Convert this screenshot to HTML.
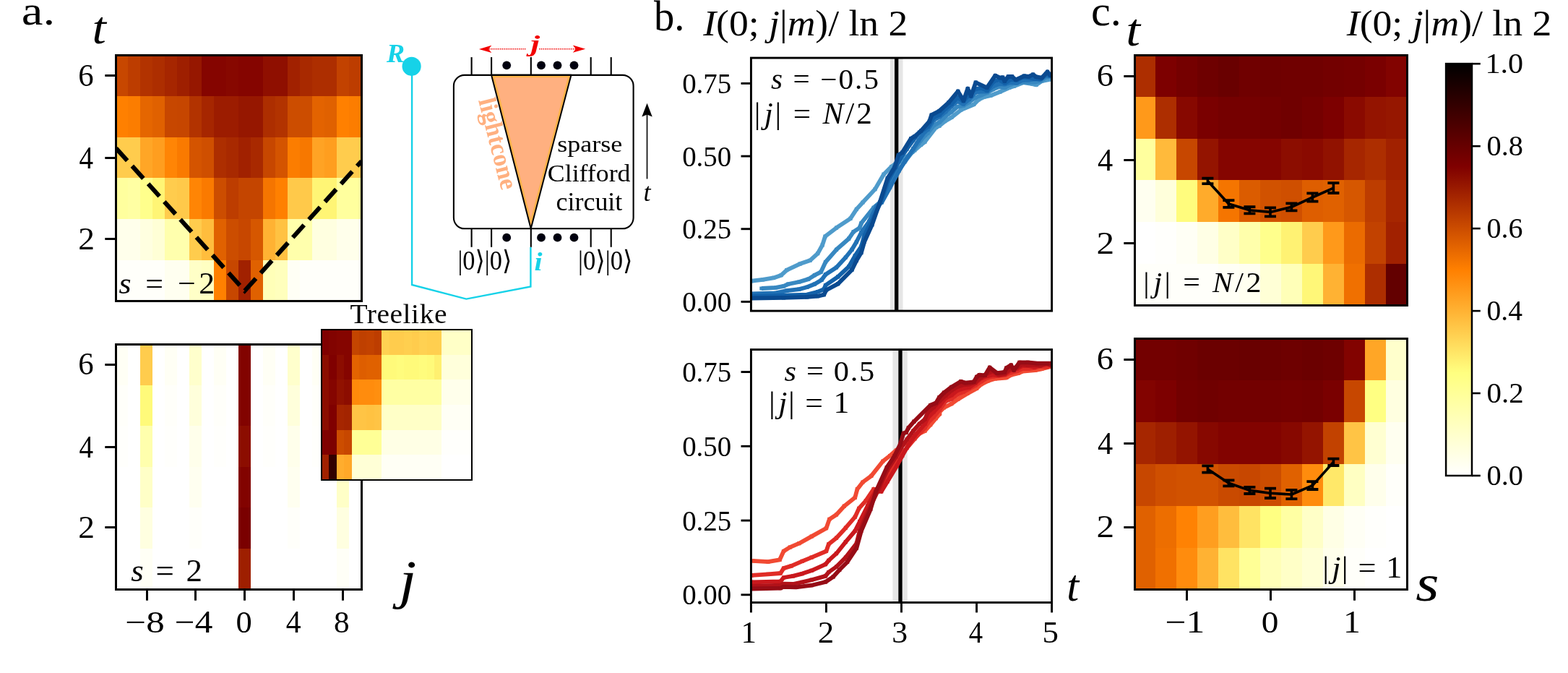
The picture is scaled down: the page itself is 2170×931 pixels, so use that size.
<!DOCTYPE html>
<html lang="en"><head><meta charset="utf-8"><title>Figure</title>
<style>html,body{margin:0;padding:0;background:#fff;overflow:hidden}svg{display:block}</style></head>
<body>
<svg width="2170" height="931" viewBox="0 0 2170 931" font-family="'Liberation Serif','DejaVu Serif',serif">
<rect width="2170" height="931" fill="#fff"/>
<g shape-rendering="crispEdges">
<rect x="160" y="76" width="17" height="57" fill="#c74700"/>
<rect x="177" y="76" width="17" height="57" fill="#bd3d00"/>
<rect x="194" y="76" width="17" height="57" fill="#b23300"/>
<rect x="211" y="76" width="17" height="57" fill="#ad2e00"/>
<rect x="228" y="76" width="17" height="57" fill="#a62600"/>
<rect x="245" y="76" width="17" height="57" fill="#9e1f00"/>
<rect x="262" y="76" width="17" height="57" fill="#961700"/>
<rect x="279" y="76" width="17" height="57" fill="#850500"/>
<rect x="296" y="76" width="17" height="57" fill="#850500"/>
<rect x="313" y="76" width="17" height="57" fill="#870800"/>
<rect x="330" y="76" width="17" height="57" fill="#850500"/>
<rect x="347" y="76" width="17" height="57" fill="#850500"/>
<rect x="364" y="76" width="17" height="57" fill="#8f0f00"/>
<rect x="381" y="76" width="17" height="57" fill="#8f0f00"/>
<rect x="398" y="76" width="17" height="57" fill="#a12100"/>
<rect x="415" y="76" width="17" height="57" fill="#a82900"/>
<rect x="432" y="76" width="17" height="57" fill="#ad2e00"/>
<rect x="449" y="76" width="17" height="57" fill="#ad2e00"/>
<rect x="466" y="76" width="17" height="57" fill="#c24200"/>
<rect x="483" y="76" width="17" height="57" fill="#bd3d00"/>
<rect x="160" y="133" width="17" height="57" fill="#ff8000"/>
<rect x="177" y="133" width="17" height="57" fill="#fc7d00"/>
<rect x="194" y="133" width="17" height="57" fill="#e56600"/>
<rect x="211" y="133" width="17" height="57" fill="#e06100"/>
<rect x="228" y="133" width="17" height="57" fill="#c74700"/>
<rect x="245" y="133" width="17" height="57" fill="#c64600"/>
<rect x="262" y="133" width="17" height="57" fill="#b23300"/>
<rect x="279" y="133" width="17" height="57" fill="#a62600"/>
<rect x="296" y="133" width="17" height="57" fill="#9c1c00"/>
<rect x="313" y="133" width="17" height="57" fill="#9c1c00"/>
<rect x="330" y="133" width="17" height="57" fill="#961700"/>
<rect x="347" y="133" width="17" height="57" fill="#961700"/>
<rect x="364" y="133" width="17" height="57" fill="#ad2e00"/>
<rect x="381" y="133" width="17" height="57" fill="#b23300"/>
<rect x="398" y="133" width="17" height="57" fill="#cc4d00"/>
<rect x="415" y="133" width="17" height="57" fill="#cc4d00"/>
<rect x="432" y="133" width="17" height="57" fill="#e36300"/>
<rect x="449" y="133" width="17" height="57" fill="#e06100"/>
<rect x="466" y="133" width="17" height="57" fill="#ff8000"/>
<rect x="483" y="133" width="17" height="57" fill="#fc7d00"/>
<rect x="160" y="190" width="17" height="56" fill="#ffcc4d"/>
<rect x="177" y="190" width="17" height="56" fill="#ffcc4d"/>
<rect x="194" y="190" width="17" height="56" fill="#ffa626"/>
<rect x="211" y="190" width="17" height="56" fill="#ff9e1f"/>
<rect x="228" y="190" width="17" height="56" fill="#ff8505"/>
<rect x="245" y="190" width="17" height="56" fill="#fa7a00"/>
<rect x="262" y="190" width="17" height="56" fill="#d45400"/>
<rect x="279" y="190" width="17" height="56" fill="#cf4f00"/>
<rect x="296" y="190" width="17" height="56" fill="#ad2e00"/>
<rect x="313" y="190" width="17" height="56" fill="#a82900"/>
<rect x="330" y="190" width="17" height="56" fill="#a12100"/>
<rect x="347" y="190" width="17" height="56" fill="#a82900"/>
<rect x="364" y="190" width="17" height="56" fill="#c74700"/>
<rect x="381" y="190" width="17" height="56" fill="#d45400"/>
<rect x="398" y="190" width="17" height="56" fill="#fc7d00"/>
<rect x="415" y="190" width="17" height="56" fill="#f77800"/>
<rect x="432" y="190" width="17" height="56" fill="#ffa324"/>
<rect x="449" y="190" width="17" height="56" fill="#ff9e1f"/>
<rect x="466" y="190" width="17" height="56" fill="#ffcc4d"/>
<rect x="483" y="190" width="17" height="56" fill="#ffcc4d"/>
<rect x="160" y="246" width="17" height="57" fill="#ffff9e"/>
<rect x="177" y="246" width="17" height="57" fill="#ffffa3"/>
<rect x="194" y="246" width="17" height="57" fill="#ffff8c"/>
<rect x="211" y="246" width="17" height="57" fill="#fff575"/>
<rect x="228" y="246" width="17" height="57" fill="#ffcc4d"/>
<rect x="245" y="246" width="17" height="57" fill="#ffc94a"/>
<rect x="262" y="246" width="17" height="57" fill="#ff8505"/>
<rect x="279" y="246" width="17" height="57" fill="#fa7a00"/>
<rect x="296" y="246" width="17" height="57" fill="#cc4d00"/>
<rect x="313" y="246" width="17" height="57" fill="#bd3d00"/>
<rect x="330" y="246" width="17" height="57" fill="#c44500"/>
<rect x="347" y="246" width="17" height="57" fill="#c44500"/>
<rect x="364" y="246" width="17" height="57" fill="#f57500"/>
<rect x="381" y="246" width="17" height="57" fill="#ff8000"/>
<rect x="398" y="246" width="17" height="57" fill="#ffc94a"/>
<rect x="415" y="246" width="17" height="57" fill="#ffc94a"/>
<rect x="432" y="246" width="17" height="57" fill="#fff575"/>
<rect x="449" y="246" width="17" height="57" fill="#fff575"/>
<rect x="466" y="246" width="17" height="57" fill="#ffff9e"/>
<rect x="483" y="246" width="17" height="57" fill="#ffff9e"/>
<rect x="160" y="303" width="17" height="57" fill="#ffffeb"/>
<rect x="177" y="303" width="17" height="57" fill="#ffffeb"/>
<rect x="194" y="303" width="17" height="57" fill="#ffffe0"/>
<rect x="211" y="303" width="17" height="57" fill="#ffffd6"/>
<rect x="228" y="303" width="17" height="57" fill="#ffffad"/>
<rect x="245" y="303" width="17" height="57" fill="#ffffad"/>
<rect x="262" y="303" width="17" height="57" fill="#ffcc4d"/>
<rect x="279" y="303" width="17" height="57" fill="#ffbd3d"/>
<rect x="296" y="303" width="17" height="57" fill="#e06100"/>
<rect x="313" y="303" width="17" height="57" fill="#cc4d00"/>
<rect x="330" y="303" width="17" height="57" fill="#c74700"/>
<rect x="347" y="303" width="17" height="57" fill="#d65700"/>
<rect x="364" y="303" width="17" height="57" fill="#ffb233"/>
<rect x="381" y="303" width="17" height="57" fill="#ffc242"/>
<rect x="398" y="303" width="17" height="57" fill="#ffffab"/>
<rect x="415" y="303" width="17" height="57" fill="#ffffad"/>
<rect x="432" y="303" width="17" height="57" fill="#ffffe0"/>
<rect x="449" y="303" width="17" height="57" fill="#ffffe0"/>
<rect x="466" y="303" width="17" height="57" fill="#ffffeb"/>
<rect x="483" y="303" width="17" height="57" fill="#ffffeb"/>
<rect x="160" y="360" width="17" height="56" fill="#fffffa"/>
<rect x="177" y="360" width="17" height="56" fill="#fffffa"/>
<rect x="194" y="360" width="17" height="56" fill="#fffffa"/>
<rect x="211" y="360" width="17" height="56" fill="#fffffa"/>
<rect x="228" y="360" width="17" height="56" fill="#fffff0"/>
<rect x="245" y="360" width="17" height="56" fill="#fffff0"/>
<rect x="262" y="360" width="17" height="56" fill="#ffffc7"/>
<rect x="279" y="360" width="17" height="56" fill="#ffffc2"/>
<rect x="296" y="360" width="17" height="56" fill="#ff8000"/>
<rect x="313" y="360" width="17" height="56" fill="#c74700"/>
<rect x="330" y="360" width="17" height="56" fill="#a12100"/>
<rect x="347" y="360" width="17" height="56" fill="#e06100"/>
<rect x="364" y="360" width="17" height="56" fill="#ffffb8"/>
<rect x="381" y="360" width="17" height="56" fill="#ffffbd"/>
<rect x="398" y="360" width="17" height="56" fill="#fffff5"/>
<rect x="415" y="360" width="17" height="56" fill="#fffffa"/>
<rect x="432" y="360" width="17" height="56" fill="#fffffa"/>
<rect x="449" y="360" width="17" height="56" fill="#fffffa"/>
<rect x="466" y="360" width="17" height="56" fill="#fffffa"/>
<rect x="483" y="360" width="17" height="56" fill="#fffffa"/>
</g>
<clipPath id="ca"><rect x="160.6" y="76.4" width="339.70000000000005" height="339.9"/></clipPath>
<polyline clip-path="url(#ca)" points="160.6,205 338.7,402.3 500.3,223" fill="none" stroke="#000" stroke-width="6.1" stroke-dasharray="23.2,10" stroke-linejoin="miter"/>
<rect x="160.5" y="76.5" width="340.0" height="340.0" fill="none" stroke="#000" stroke-width="3" shape-rendering="crispEdges"/>
<line x1="145.30" y1="104.5" x2="160.50" y2="104.5" stroke="#000" stroke-width="3"/>
<line x1="145.30" y1="218.5" x2="160.50" y2="218.5" stroke="#000" stroke-width="3"/>
<line x1="145.30" y1="330.5" x2="160.50" y2="330.5" stroke="#000" stroke-width="3"/>
<g shape-rendering="crispEdges">
<rect x="160" y="476" width="17" height="57" fill="#fffff5"/>
<rect x="177" y="476" width="17" height="57" fill="#ffffff"/>
<rect x="194" y="476" width="17" height="57" fill="#ffcc4d"/>
<rect x="211" y="476" width="17" height="57" fill="#ffffff"/>
<rect x="228" y="476" width="17" height="57" fill="#fffff5"/>
<rect x="245" y="476" width="17" height="57" fill="#ffffff"/>
<rect x="262" y="476" width="17" height="57" fill="#ffffcc"/>
<rect x="279" y="476" width="17" height="57" fill="#ffffff"/>
<rect x="296" y="476" width="17" height="57" fill="#fffff5"/>
<rect x="313" y="476" width="17" height="57" fill="#ffffff"/>
<rect x="330" y="476" width="17" height="57" fill="#820300"/>
<rect x="347" y="476" width="17" height="57" fill="#ffffff"/>
<rect x="364" y="476" width="17" height="57" fill="#fffff5"/>
<rect x="381" y="476" width="17" height="57" fill="#ffffff"/>
<rect x="398" y="476" width="17" height="57" fill="#ffffcc"/>
<rect x="415" y="476" width="17" height="57" fill="#ffffff"/>
<rect x="432" y="476" width="17" height="57" fill="#fffff5"/>
<rect x="449" y="476" width="17" height="57" fill="#ffffff"/>
<rect x="466" y="476" width="17" height="57" fill="#ffcc4d"/>
<rect x="483" y="476" width="17" height="57" fill="#ffffff"/>
<rect x="160" y="533" width="17" height="56" fill="#fffffa"/>
<rect x="177" y="533" width="17" height="56" fill="#ffffff"/>
<rect x="194" y="533" width="17" height="56" fill="#fffa7a"/>
<rect x="211" y="533" width="17" height="56" fill="#ffffff"/>
<rect x="228" y="533" width="17" height="56" fill="#fffffa"/>
<rect x="245" y="533" width="17" height="56" fill="#ffffff"/>
<rect x="262" y="533" width="17" height="56" fill="#ffffdb"/>
<rect x="279" y="533" width="17" height="56" fill="#ffffff"/>
<rect x="296" y="533" width="17" height="56" fill="#fffffa"/>
<rect x="313" y="533" width="17" height="56" fill="#ffffff"/>
<rect x="330" y="533" width="17" height="56" fill="#820300"/>
<rect x="347" y="533" width="17" height="56" fill="#ffffff"/>
<rect x="364" y="533" width="17" height="56" fill="#fffffa"/>
<rect x="381" y="533" width="17" height="56" fill="#ffffff"/>
<rect x="398" y="533" width="17" height="56" fill="#ffffdb"/>
<rect x="415" y="533" width="17" height="56" fill="#ffffff"/>
<rect x="432" y="533" width="17" height="56" fill="#fffffa"/>
<rect x="449" y="533" width="17" height="56" fill="#ffffff"/>
<rect x="466" y="533" width="17" height="56" fill="#fffa7a"/>
<rect x="483" y="533" width="17" height="56" fill="#ffffff"/>
<rect x="160" y="589" width="17" height="57" fill="#fffffc"/>
<rect x="177" y="589" width="17" height="57" fill="#ffffff"/>
<rect x="194" y="589" width="17" height="57" fill="#ffffad"/>
<rect x="211" y="589" width="17" height="57" fill="#ffffff"/>
<rect x="228" y="589" width="17" height="57" fill="#fffffc"/>
<rect x="245" y="589" width="17" height="57" fill="#ffffff"/>
<rect x="262" y="589" width="17" height="57" fill="#ffffeb"/>
<rect x="279" y="589" width="17" height="57" fill="#ffffff"/>
<rect x="296" y="589" width="17" height="57" fill="#fffffc"/>
<rect x="313" y="589" width="17" height="57" fill="#ffffff"/>
<rect x="330" y="589" width="17" height="57" fill="#8c0d00"/>
<rect x="347" y="589" width="17" height="57" fill="#ffffff"/>
<rect x="364" y="589" width="17" height="57" fill="#fffffc"/>
<rect x="381" y="589" width="17" height="57" fill="#ffffff"/>
<rect x="398" y="589" width="17" height="57" fill="#ffffeb"/>
<rect x="415" y="589" width="17" height="57" fill="#ffffff"/>
<rect x="432" y="589" width="17" height="57" fill="#fffffc"/>
<rect x="449" y="589" width="17" height="57" fill="#ffffff"/>
<rect x="466" y="589" width="17" height="57" fill="#ffffad"/>
<rect x="483" y="589" width="17" height="57" fill="#ffffff"/>
<rect x="160" y="646" width="17" height="56" fill="#ffffff"/>
<rect x="177" y="646" width="17" height="56" fill="#ffffff"/>
<rect x="194" y="646" width="17" height="56" fill="#ffffc7"/>
<rect x="211" y="646" width="17" height="56" fill="#ffffff"/>
<rect x="228" y="646" width="17" height="56" fill="#ffffff"/>
<rect x="245" y="646" width="17" height="56" fill="#ffffff"/>
<rect x="262" y="646" width="17" height="56" fill="#fffff0"/>
<rect x="279" y="646" width="17" height="56" fill="#ffffff"/>
<rect x="296" y="646" width="17" height="56" fill="#ffffff"/>
<rect x="313" y="646" width="17" height="56" fill="#ffffff"/>
<rect x="330" y="646" width="17" height="56" fill="#820300"/>
<rect x="347" y="646" width="17" height="56" fill="#ffffff"/>
<rect x="364" y="646" width="17" height="56" fill="#ffffff"/>
<rect x="381" y="646" width="17" height="56" fill="#ffffff"/>
<rect x="398" y="646" width="17" height="56" fill="#fffff0"/>
<rect x="415" y="646" width="17" height="56" fill="#ffffff"/>
<rect x="432" y="646" width="17" height="56" fill="#ffffff"/>
<rect x="449" y="646" width="17" height="56" fill="#ffffff"/>
<rect x="466" y="646" width="17" height="56" fill="#ffffc7"/>
<rect x="483" y="646" width="17" height="56" fill="#ffffff"/>
<rect x="160" y="702" width="17" height="57" fill="#ffffff"/>
<rect x="177" y="702" width="17" height="57" fill="#ffffff"/>
<rect x="194" y="702" width="17" height="57" fill="#ffffe0"/>
<rect x="211" y="702" width="17" height="57" fill="#ffffff"/>
<rect x="228" y="702" width="17" height="57" fill="#ffffff"/>
<rect x="245" y="702" width="17" height="57" fill="#ffffff"/>
<rect x="262" y="702" width="17" height="57" fill="#fffffa"/>
<rect x="279" y="702" width="17" height="57" fill="#ffffff"/>
<rect x="296" y="702" width="17" height="57" fill="#ffffff"/>
<rect x="313" y="702" width="17" height="57" fill="#ffffff"/>
<rect x="330" y="702" width="17" height="57" fill="#7a0000"/>
<rect x="347" y="702" width="17" height="57" fill="#ffffff"/>
<rect x="364" y="702" width="17" height="57" fill="#ffffff"/>
<rect x="381" y="702" width="17" height="57" fill="#ffffff"/>
<rect x="398" y="702" width="17" height="57" fill="#fffffa"/>
<rect x="415" y="702" width="17" height="57" fill="#ffffff"/>
<rect x="432" y="702" width="17" height="57" fill="#ffffff"/>
<rect x="449" y="702" width="17" height="57" fill="#ffffff"/>
<rect x="466" y="702" width="17" height="57" fill="#ffffe0"/>
<rect x="483" y="702" width="17" height="57" fill="#ffffff"/>
<rect x="160" y="759" width="17" height="56" fill="#ffffff"/>
<rect x="177" y="759" width="17" height="56" fill="#ffffff"/>
<rect x="194" y="759" width="17" height="56" fill="#fffff5"/>
<rect x="211" y="759" width="17" height="56" fill="#ffffff"/>
<rect x="228" y="759" width="17" height="56" fill="#ffffff"/>
<rect x="245" y="759" width="17" height="56" fill="#ffffff"/>
<rect x="262" y="759" width="17" height="56" fill="#ffffff"/>
<rect x="279" y="759" width="17" height="56" fill="#ffffff"/>
<rect x="296" y="759" width="17" height="56" fill="#ffffff"/>
<rect x="313" y="759" width="17" height="56" fill="#ffffff"/>
<rect x="330" y="759" width="17" height="56" fill="#9e1f00"/>
<rect x="347" y="759" width="17" height="56" fill="#ffffff"/>
<rect x="364" y="759" width="17" height="56" fill="#ffffff"/>
<rect x="381" y="759" width="17" height="56" fill="#ffffff"/>
<rect x="398" y="759" width="17" height="56" fill="#ffffff"/>
<rect x="415" y="759" width="17" height="56" fill="#ffffff"/>
<rect x="432" y="759" width="17" height="56" fill="#ffffff"/>
<rect x="449" y="759" width="17" height="56" fill="#ffffff"/>
<rect x="466" y="759" width="17" height="56" fill="#fffff7"/>
<rect x="483" y="759" width="17" height="56" fill="#ffffff"/>
</g>
<rect x="160.5" y="476.5" width="340.0" height="339.0" fill="none" stroke="#000" stroke-width="3" shape-rendering="crispEdges"/>
<line x1="145.30" y1="504.5" x2="160.50" y2="504.5" stroke="#000" stroke-width="3"/>
<line x1="145.30" y1="618.5" x2="160.50" y2="618.5" stroke="#000" stroke-width="3"/>
<line x1="145.30" y1="729.5" x2="160.50" y2="729.5" stroke="#000" stroke-width="3"/>
<line x1="203.5" y1="815.50" x2="203.5" y2="830.70" stroke="#000" stroke-width="3"/>
<line x1="270.5" y1="815.50" x2="270.5" y2="830.70" stroke="#000" stroke-width="3"/>
<line x1="338.5" y1="815.50" x2="338.5" y2="830.70" stroke="#000" stroke-width="3"/>
<line x1="406.5" y1="815.50" x2="406.5" y2="830.70" stroke="#000" stroke-width="3"/>
<line x1="474.5" y1="815.50" x2="474.5" y2="830.70" stroke="#000" stroke-width="3"/>
<rect x="444.8" y="456.4" width="208.40000000000003" height="207.5" fill="#fff"/>
<g shape-rendering="crispEdges">
<rect x="445" y="456" width="10" height="35" fill="#800000"/>
<rect x="455" y="456" width="11" height="35" fill="#820300"/>
<rect x="466" y="456" width="10" height="35" fill="#850500"/>
<rect x="476" y="456" width="11" height="35" fill="#850500"/>
<rect x="487" y="456" width="10" height="35" fill="#c44500"/>
<rect x="497" y="456" width="10" height="35" fill="#bf4000"/>
<rect x="507" y="456" width="11" height="35" fill="#c24200"/>
<rect x="518" y="456" width="10" height="35" fill="#bd3d00"/>
<rect x="528" y="456" width="11" height="35" fill="#ffd152"/>
<rect x="539" y="456" width="10" height="35" fill="#ffcc4d"/>
<rect x="549" y="456" width="10" height="35" fill="#ffcc4d"/>
<rect x="559" y="456" width="11" height="35" fill="#ffcf4f"/>
<rect x="570" y="456" width="10" height="35" fill="#ffcc4d"/>
<rect x="580" y="456" width="11" height="35" fill="#ffd152"/>
<rect x="591" y="456" width="10" height="35" fill="#ffcf4f"/>
<rect x="601" y="456" width="10" height="35" fill="#ffcf4f"/>
<rect x="611" y="456" width="11" height="35" fill="#ffffc7"/>
<rect x="622" y="456" width="10" height="35" fill="#ffffc7"/>
<rect x="632" y="456" width="11" height="35" fill="#ffffc7"/>
<rect x="643" y="456" width="10" height="35" fill="#ffffc7"/>
<rect x="445" y="491" width="10" height="34" fill="#8c0d00"/>
<rect x="455" y="491" width="11" height="34" fill="#800000"/>
<rect x="466" y="491" width="10" height="34" fill="#8c0d00"/>
<rect x="476" y="491" width="11" height="34" fill="#850500"/>
<rect x="487" y="491" width="10" height="34" fill="#e36300"/>
<rect x="497" y="491" width="10" height="34" fill="#de5e00"/>
<rect x="507" y="491" width="11" height="34" fill="#e06100"/>
<rect x="518" y="491" width="10" height="34" fill="#e06100"/>
<rect x="528" y="491" width="11" height="34" fill="#fffa7a"/>
<rect x="539" y="491" width="10" height="34" fill="#fffa7a"/>
<rect x="549" y="491" width="10" height="34" fill="#fffc7d"/>
<rect x="559" y="491" width="11" height="34" fill="#fffa7a"/>
<rect x="570" y="491" width="10" height="34" fill="#fffa7a"/>
<rect x="580" y="491" width="11" height="34" fill="#fffc7d"/>
<rect x="591" y="491" width="10" height="34" fill="#fffa7a"/>
<rect x="601" y="491" width="10" height="34" fill="#fff070"/>
<rect x="611" y="491" width="11" height="34" fill="#ffffdb"/>
<rect x="622" y="491" width="10" height="34" fill="#ffffdb"/>
<rect x="632" y="491" width="11" height="34" fill="#ffffdb"/>
<rect x="643" y="491" width="10" height="34" fill="#ffffdb"/>
<rect x="445" y="525" width="10" height="35" fill="#8c0d00"/>
<rect x="455" y="525" width="11" height="35" fill="#850500"/>
<rect x="466" y="525" width="10" height="35" fill="#911200"/>
<rect x="476" y="525" width="11" height="35" fill="#8c0d00"/>
<rect x="487" y="525" width="10" height="35" fill="#ff8a0a"/>
<rect x="497" y="525" width="10" height="35" fill="#ff8c0d"/>
<rect x="507" y="525" width="11" height="35" fill="#ff8c0d"/>
<rect x="518" y="525" width="10" height="35" fill="#ff8f0f"/>
<rect x="528" y="525" width="11" height="35" fill="#ffffa3"/>
<rect x="539" y="525" width="10" height="35" fill="#ffffa3"/>
<rect x="549" y="525" width="10" height="35" fill="#ffffa3"/>
<rect x="559" y="525" width="11" height="35" fill="#ffffa3"/>
<rect x="570" y="525" width="10" height="35" fill="#ffffa3"/>
<rect x="580" y="525" width="11" height="35" fill="#ffffa3"/>
<rect x="591" y="525" width="10" height="35" fill="#ffffa3"/>
<rect x="601" y="525" width="10" height="35" fill="#ffffa3"/>
<rect x="611" y="525" width="11" height="35" fill="#ffffeb"/>
<rect x="622" y="525" width="10" height="35" fill="#ffffeb"/>
<rect x="632" y="525" width="11" height="35" fill="#ffffeb"/>
<rect x="643" y="525" width="10" height="35" fill="#ffffeb"/>
<rect x="445" y="560" width="10" height="35" fill="#8c0d00"/>
<rect x="455" y="560" width="11" height="35" fill="#800000"/>
<rect x="466" y="560" width="10" height="35" fill="#a62600"/>
<rect x="476" y="560" width="11" height="35" fill="#a32400"/>
<rect x="487" y="560" width="10" height="35" fill="#ffc445"/>
<rect x="497" y="560" width="10" height="35" fill="#ffc445"/>
<rect x="507" y="560" width="11" height="35" fill="#ffc242"/>
<rect x="518" y="560" width="10" height="35" fill="#ffc445"/>
<rect x="528" y="560" width="11" height="35" fill="#ffffc7"/>
<rect x="539" y="560" width="10" height="35" fill="#ffffc7"/>
<rect x="549" y="560" width="10" height="35" fill="#ffffc7"/>
<rect x="559" y="560" width="11" height="35" fill="#ffffc7"/>
<rect x="570" y="560" width="10" height="35" fill="#ffffc7"/>
<rect x="580" y="560" width="11" height="35" fill="#ffffc7"/>
<rect x="591" y="560" width="10" height="35" fill="#ffffc7"/>
<rect x="601" y="560" width="10" height="35" fill="#ffffc7"/>
<rect x="611" y="560" width="11" height="35" fill="#fffff5"/>
<rect x="622" y="560" width="10" height="35" fill="#fffff5"/>
<rect x="632" y="560" width="11" height="35" fill="#fffff5"/>
<rect x="643" y="560" width="10" height="35" fill="#fffff5"/>
<rect x="445" y="595" width="10" height="34" fill="#800000"/>
<rect x="455" y="595" width="11" height="34" fill="#7d0000"/>
<rect x="466" y="595" width="10" height="34" fill="#cc4d00"/>
<rect x="476" y="595" width="11" height="34" fill="#c74700"/>
<rect x="487" y="595" width="10" height="34" fill="#ffff96"/>
<rect x="497" y="595" width="10" height="34" fill="#ffff96"/>
<rect x="507" y="595" width="11" height="34" fill="#ffff96"/>
<rect x="518" y="595" width="10" height="34" fill="#ffff96"/>
<rect x="528" y="595" width="11" height="34" fill="#ffffe5"/>
<rect x="539" y="595" width="10" height="34" fill="#ffffe5"/>
<rect x="549" y="595" width="10" height="34" fill="#ffffe5"/>
<rect x="559" y="595" width="11" height="34" fill="#ffffe5"/>
<rect x="570" y="595" width="10" height="34" fill="#ffffe5"/>
<rect x="580" y="595" width="11" height="34" fill="#ffffe5"/>
<rect x="591" y="595" width="10" height="34" fill="#ffffe5"/>
<rect x="601" y="595" width="10" height="34" fill="#ffffe5"/>
<rect x="611" y="595" width="11" height="34" fill="#fffffc"/>
<rect x="622" y="595" width="10" height="34" fill="#fffffc"/>
<rect x="632" y="595" width="11" height="34" fill="#fffffc"/>
<rect x="643" y="595" width="10" height="34" fill="#fffffc"/>
<rect x="445" y="629" width="10" height="35" fill="#a12100"/>
<rect x="455" y="629" width="11" height="35" fill="#330000"/>
<rect x="466" y="629" width="10" height="35" fill="#ffad2e"/>
<rect x="476" y="629" width="11" height="35" fill="#ffa829"/>
<rect x="487" y="629" width="10" height="35" fill="#ffffd6"/>
<rect x="497" y="629" width="10" height="35" fill="#ffffd6"/>
<rect x="507" y="629" width="11" height="35" fill="#ffffd6"/>
<rect x="518" y="629" width="10" height="35" fill="#ffffd6"/>
<rect x="528" y="629" width="11" height="35" fill="#fffff5"/>
<rect x="539" y="629" width="10" height="35" fill="#fffff5"/>
<rect x="549" y="629" width="10" height="35" fill="#fffff5"/>
<rect x="559" y="629" width="11" height="35" fill="#fffff5"/>
<rect x="570" y="629" width="10" height="35" fill="#fffff5"/>
<rect x="580" y="629" width="11" height="35" fill="#fffff5"/>
<rect x="591" y="629" width="10" height="35" fill="#fffff5"/>
<rect x="601" y="629" width="10" height="35" fill="#fffff5"/>
<rect x="611" y="629" width="11" height="35" fill="#ffffff"/>
<rect x="622" y="629" width="10" height="35" fill="#ffffff"/>
<rect x="632" y="629" width="11" height="35" fill="#ffffff"/>
<rect x="643" y="629" width="10" height="35" fill="#ffffff"/>
</g>
<rect x="445.0" y="456.0" width="208.0" height="208.0" fill="none" stroke="#000" stroke-width="2" shape-rendering="crispEdges"/>
<g id="circuit">
<polyline points="570.1,91.8 570.1,394 645.3,413.6 734.4,396.4 734.4,342" fill="none" stroke="#16d2e8" stroke-width="2.4" stroke-linejoin="miter"/>
<circle cx="569.6" cy="91.8" r="13.1" fill="#16d2e8"/>
<rect x="627.9" y="103.9" width="248.7" height="212.4" rx="15" ry="15" fill="#fff" stroke="#000" stroke-width="2.1"/>
<polygon points="680.1,103.9 790.4,103.9 734.7,316.2" fill="#ffb080"/>
<polygon points="683.00,106.15 787.48,106.15 734.72,307.25" fill="none" stroke="#ffb347" stroke-width="2.4" stroke-linejoin="miter"/>
<polyline points="680.1,103.9 734.7,316.2 790.4,103.9" fill="none" stroke="#000" stroke-width="2.0" stroke-linejoin="miter"/>
<path d="M679,103.9H791" stroke="#000" stroke-width="2.1" fill="none"/>
<line x1="652.6" y1="79.1" x2="652.6" y2="103.9" stroke="#000" stroke-width="2.1"/>
<line x1="652.6" y1="316.3" x2="652.6" y2="341.8" stroke="#000" stroke-width="2.1"/>
<line x1="680.1" y1="79.1" x2="680.1" y2="103.9" stroke="#000" stroke-width="2.1"/>
<line x1="680.1" y1="316.3" x2="680.1" y2="341.8" stroke="#000" stroke-width="2.1"/>
<line x1="734.8" y1="79.1" x2="734.8" y2="103.9" stroke="#000" stroke-width="2.1"/>
<line x1="734.8" y1="316.3" x2="734.8" y2="341.8" stroke="#000" stroke-width="2.1"/>
<line x1="817.7" y1="79.1" x2="817.7" y2="103.9" stroke="#000" stroke-width="2.1"/>
<line x1="817.7" y1="316.3" x2="817.7" y2="341.8" stroke="#000" stroke-width="2.1"/>
<line x1="845.7" y1="79.1" x2="845.7" y2="103.9" stroke="#000" stroke-width="2.1"/>
<line x1="845.7" y1="316.3" x2="845.7" y2="341.8" stroke="#000" stroke-width="2.1"/>
<circle cx="701.2" cy="90.3" r="5.9" fill="#00000f"/>
<circle cx="701.2" cy="328.7" r="5.9" fill="#00000f"/>
<circle cx="749.0" cy="90.3" r="5.9" fill="#00000f"/>
<circle cx="749.0" cy="328.7" r="5.9" fill="#00000f"/>
<circle cx="771.5" cy="90.3" r="5.9" fill="#00000f"/>
<circle cx="771.5" cy="328.7" r="5.9" fill="#00000f"/>
<circle cx="794.5" cy="90.3" r="5.9" fill="#00000f"/>
<circle cx="794.5" cy="328.7" r="5.9" fill="#00000f"/>
<line x1="676.5" y1="67.8" x2="727.3" y2="67.8" stroke="#f20000" stroke-width="1.4" stroke-dasharray="1.4,1.2"/>
<line x1="746.2" y1="67.8" x2="797" y2="67.8" stroke="#f20000" stroke-width="1.4" stroke-dasharray="1.4,1.2"/>
<path d="M662.9,67.9 L680.3,62.8 L676.2,67.9 L680.3,73 Z" fill="#f20000"/>
<path d="M810.2,67.7 L792.8,62.6 L796.9,67.7 L792.8,72.8 Z" fill="#f20000"/>
<line x1="895.5" y1="158" x2="895.5" y2="247.5" stroke="#000" stroke-width="1.6"/>
<path d="M895.5,142.8 L902.7,161.6 L895.5,158.6 L888.3,161.6 Z" fill="#000"/>
</g>
<clipPath id="cbt"><rect x="1039.4" y="80.1" width="416.1999999999998" height="350.0"/></clipPath>
<clipPath id="cbb"><rect x="1039.4" y="483.6" width="416.1999999999998" height="349.9"/></clipPath>
<rect x="1232.0" y="80.1" width="17.5" height="350.0" fill="#e6e6e6"/>
<line x1="1240.7" y1="80.1" x2="1240.7" y2="430.1" stroke="#000" stroke-width="5.3"/>
<polyline clip-path="url(#cbt)" points="1040.4,388.7 1055.5,386.8 1070.5,384.4 1081.2,380.7 1088.8,373.6 1107.0,365.1 1121.0,360.3 1131.7,350.7 1138.2,338.8 1142.0,327.0 1157.5,315.2 1176.9,302.3 1185.4,289.4 1194.0,280.0 1211.1,261.6 1223.0,241.2 1233.7,230.5 1238.5,227.3 1246.6,223.0 1255.2,216.5 1265.9,207.9 1274.5,200.4 1280.0,196.1 1295.3,176.3 1300.0,174.1 1307.7,167.7 1316.8,162.5 1329.7,152.2 1347.7,144.5 1354.2,138.0 1361.9,134.2 1370.9,132.2 1383.8,127.1 1396.7,121.3 1403.1,119.3 1416.0,114.2 1428.9,116.1 1434.1,117.4 1441.8,112.2 1454.1,109.7" fill="none" stroke="#4f9bcb" stroke-width="5.8" stroke-linejoin="round"/>
<path clip-path="url(#cbt)" d="M1037.8,386.1h5.2v5.2h-5.2zM1052.9,384.2h5.2v5.2h-5.2zM1067.9,381.8h5.2v5.2h-5.2zM1078.6,378.1h5.2v5.2h-5.2zM1086.2,371.0h5.2v5.2h-5.2zM1104.4,362.5h5.2v5.2h-5.2zM1118.4,357.7h5.2v5.2h-5.2zM1129.1,348.1h5.2v5.2h-5.2zM1135.6,336.2h5.2v5.2h-5.2zM1139.4,324.4h5.2v5.2h-5.2zM1154.9,312.6h5.2v5.2h-5.2zM1174.3,299.7h5.2v5.2h-5.2zM1182.8,286.8h5.2v5.2h-5.2zM1191.4,277.4h5.2v5.2h-5.2zM1208.5,259.0h5.2v5.2h-5.2zM1220.4,238.6h5.2v5.2h-5.2zM1231.1,227.9h5.2v5.2h-5.2zM1235.9,224.7h5.2v5.2h-5.2zM1244.0,220.4h5.2v5.2h-5.2zM1252.6,213.9h5.2v5.2h-5.2zM1263.3,205.3h5.2v5.2h-5.2zM1271.9,197.8h5.2v5.2h-5.2zM1277.4,193.5h5.2v5.2h-5.2zM1292.7,173.7h5.2v5.2h-5.2zM1297.4,171.5h5.2v5.2h-5.2zM1305.1,165.1h5.2v5.2h-5.2zM1314.2,159.9h5.2v5.2h-5.2zM1327.1,149.6h5.2v5.2h-5.2zM1345.1,141.9h5.2v5.2h-5.2zM1351.6,135.4h5.2v5.2h-5.2zM1359.3,131.6h5.2v5.2h-5.2zM1368.3,129.6h5.2v5.2h-5.2zM1381.2,124.5h5.2v5.2h-5.2zM1394.1,118.7h5.2v5.2h-5.2zM1400.5,116.7h5.2v5.2h-5.2zM1413.4,111.6h5.2v5.2h-5.2zM1426.3,113.5h5.2v5.2h-5.2zM1431.5,114.8h5.2v5.2h-5.2zM1439.2,109.6h5.2v5.2h-5.2zM1451.5,107.1h5.2v5.2h-5.2z" fill="#4f9bcb"/>
<polyline clip-path="url(#cbt)" points="1053.9,399.0 1073.7,397.9 1084.5,395.8 1090.9,393.0 1105.9,390.0 1118.8,386.1 1127.4,380.7 1136.0,376.4 1142.5,362.5 1157.5,345.3 1174.7,330.2 1181.2,320.6 1189.7,315.2 1191.9,308.8 1209.1,287.3 1217.6,280.0 1229.4,258.4 1242.3,236.9 1252.0,224.0 1262.7,210.1 1271.3,198.3 1280.0,187.5 1284.0,184.1 1292.2,173.5 1300.4,168.9 1308.6,160.6 1316.8,154.9 1325.0,147.6 1333.2,146.1 1341.4,141.2 1349.6,135.1 1357.8,131.6 1366.0,128.3 1374.2,123.7 1382.4,120.1 1390.6,121.3 1398.8,116.8 1407.0,113.9 1415.2,113.5 1423.4,113.9 1431.6,113.6 1439.8,112.1 1448.0,106.9 1454.2,106.6" fill="none" stroke="#3888c1" stroke-width="5.8" stroke-linejoin="round"/>
<path clip-path="url(#cbt)" d="M1051.3,396.4h5.2v5.2h-5.2zM1071.1,395.3h5.2v5.2h-5.2zM1081.9,393.2h5.2v5.2h-5.2zM1088.3,390.4h5.2v5.2h-5.2zM1103.3,387.4h5.2v5.2h-5.2zM1116.2,383.5h5.2v5.2h-5.2zM1124.8,378.1h5.2v5.2h-5.2zM1133.4,373.8h5.2v5.2h-5.2zM1139.9,359.9h5.2v5.2h-5.2zM1154.9,342.7h5.2v5.2h-5.2zM1172.1,327.6h5.2v5.2h-5.2zM1178.6,318.0h5.2v5.2h-5.2zM1187.1,312.6h5.2v5.2h-5.2zM1189.3,306.2h5.2v5.2h-5.2zM1206.5,284.7h5.2v5.2h-5.2zM1215.0,277.4h5.2v5.2h-5.2zM1226.8,255.8h5.2v5.2h-5.2zM1239.7,234.3h5.2v5.2h-5.2zM1249.4,221.4h5.2v5.2h-5.2zM1260.1,207.5h5.2v5.2h-5.2zM1268.7,195.7h5.2v5.2h-5.2zM1277.4,184.9h5.2v5.2h-5.2zM1281.4,181.5h5.2v5.2h-5.2zM1289.6,170.9h5.2v5.2h-5.2zM1297.8,166.3h5.2v5.2h-5.2zM1306.0,158.0h5.2v5.2h-5.2zM1314.2,152.3h5.2v5.2h-5.2zM1322.4,145.0h5.2v5.2h-5.2zM1330.6,143.5h5.2v5.2h-5.2zM1338.8,138.6h5.2v5.2h-5.2zM1347.0,132.5h5.2v5.2h-5.2zM1355.2,129.0h5.2v5.2h-5.2zM1363.4,125.7h5.2v5.2h-5.2zM1371.6,121.1h5.2v5.2h-5.2zM1379.8,117.5h5.2v5.2h-5.2zM1388.0,118.7h5.2v5.2h-5.2zM1396.2,114.2h5.2v5.2h-5.2zM1404.4,111.3h5.2v5.2h-5.2zM1412.6,110.9h5.2v5.2h-5.2zM1420.8,111.3h5.2v5.2h-5.2zM1429.0,111.0h5.2v5.2h-5.2zM1437.2,109.5h5.2v5.2h-5.2zM1445.4,104.3h5.2v5.2h-5.2zM1451.6,104.0h5.2v5.2h-5.2z" fill="#3888c1"/>
<polyline clip-path="url(#cbt)" points="1040.4,406.5 1073.7,405.4 1088.8,402.2 1105.9,400.1 1116.7,397.3 1127.4,393.0 1137.1,387.2 1142.5,379.7 1157.5,370.0 1170.4,356.0 1179.0,345.3 1185.4,334.5 1191.9,321.7 1202.6,306.6 1213.4,285.1 1220.3,280.0 1231.6,259.5 1244.4,235.9 1253.0,221.9 1263.8,205.8 1271.3,194.0 1280.0,182.1 1284.0,179.3 1292.2,166.3 1300.4,161.4 1308.6,154.6 1316.8,147.1 1325.0,140.1 1333.2,143.9 1341.4,137.3 1349.6,128.1 1357.8,126.4 1366.0,126.5 1374.2,119.4 1382.4,116.2 1390.6,116.6 1398.8,114.1 1407.0,114.9 1415.2,111.0 1423.4,110.7 1431.6,109.5 1439.8,109.3 1448.0,104.8 1454.2,105.4" fill="none" stroke="#2171b5" stroke-width="5.8" stroke-linejoin="round"/>
<path clip-path="url(#cbt)" d="M1037.8,403.9h5.2v5.2h-5.2zM1071.1,402.8h5.2v5.2h-5.2zM1086.2,399.6h5.2v5.2h-5.2zM1103.3,397.5h5.2v5.2h-5.2zM1114.1,394.7h5.2v5.2h-5.2zM1124.8,390.4h5.2v5.2h-5.2zM1134.5,384.6h5.2v5.2h-5.2zM1139.9,377.1h5.2v5.2h-5.2zM1154.9,367.4h5.2v5.2h-5.2zM1167.8,353.4h5.2v5.2h-5.2zM1176.4,342.7h5.2v5.2h-5.2zM1182.8,331.9h5.2v5.2h-5.2zM1189.3,319.1h5.2v5.2h-5.2zM1200.0,304.0h5.2v5.2h-5.2zM1210.8,282.5h5.2v5.2h-5.2zM1217.7,277.4h5.2v5.2h-5.2zM1229.0,256.9h5.2v5.2h-5.2zM1241.8,233.3h5.2v5.2h-5.2zM1250.4,219.3h5.2v5.2h-5.2zM1261.2,203.2h5.2v5.2h-5.2zM1268.7,191.4h5.2v5.2h-5.2zM1277.4,179.5h5.2v5.2h-5.2zM1281.4,176.7h5.2v5.2h-5.2zM1289.6,163.7h5.2v5.2h-5.2zM1297.8,158.8h5.2v5.2h-5.2zM1306.0,152.0h5.2v5.2h-5.2zM1314.2,144.5h5.2v5.2h-5.2zM1322.4,137.5h5.2v5.2h-5.2zM1330.6,141.3h5.2v5.2h-5.2zM1338.8,134.7h5.2v5.2h-5.2zM1347.0,125.5h5.2v5.2h-5.2zM1355.2,123.8h5.2v5.2h-5.2zM1363.4,123.9h5.2v5.2h-5.2zM1371.6,116.8h5.2v5.2h-5.2zM1379.8,113.6h5.2v5.2h-5.2zM1388.0,114.0h5.2v5.2h-5.2zM1396.2,111.5h5.2v5.2h-5.2zM1404.4,112.3h5.2v5.2h-5.2zM1412.6,108.4h5.2v5.2h-5.2zM1420.8,108.1h5.2v5.2h-5.2zM1429.0,106.9h5.2v5.2h-5.2zM1437.2,106.7h5.2v5.2h-5.2zM1445.4,102.2h5.2v5.2h-5.2zM1451.6,102.8h5.2v5.2h-5.2z" fill="#2171b5"/>
<polyline clip-path="url(#cbt)" points="1040.4,409.7 1084.5,408.7 1116.7,407.6 1131.7,403.7 1140.3,400.1 1142.5,394.7 1159.7,382.9 1174.7,368.9 1183.3,353.9 1191.9,341.0 1196.2,325.9 1209.1,300.2 1218.7,280.0 1229.4,249.8 1240.2,230.5 1246.6,218.7 1255.2,205.8 1263.8,194.0 1272.4,183.2 1284.0,175.4 1292.2,162.2 1300.4,158.8 1308.6,150.1 1316.8,144.2 1325.0,134.8 1333.2,139.8 1341.4,130.7 1349.6,123.3 1357.8,121.6 1366.0,125.2 1374.2,113.5 1382.4,110.2 1390.6,114.9 1398.8,109.9 1407.0,110.8 1415.2,106.6 1423.4,107.3 1431.6,108.8 1439.8,109.6 1448.0,102.0 1454.2,104.8" fill="none" stroke="#1361a9" stroke-width="5.8" stroke-linejoin="round"/>
<path clip-path="url(#cbt)" d="M1037.8,407.1h5.2v5.2h-5.2zM1081.9,406.1h5.2v5.2h-5.2zM1114.1,405.0h5.2v5.2h-5.2zM1129.1,401.1h5.2v5.2h-5.2zM1137.7,397.5h5.2v5.2h-5.2zM1139.9,392.1h5.2v5.2h-5.2zM1157.1,380.3h5.2v5.2h-5.2zM1172.1,366.3h5.2v5.2h-5.2zM1180.7,351.3h5.2v5.2h-5.2zM1189.3,338.4h5.2v5.2h-5.2zM1193.6,323.3h5.2v5.2h-5.2zM1206.5,297.6h5.2v5.2h-5.2zM1216.1,277.4h5.2v5.2h-5.2zM1226.8,247.2h5.2v5.2h-5.2zM1237.6,227.9h5.2v5.2h-5.2zM1244.0,216.1h5.2v5.2h-5.2zM1252.6,203.2h5.2v5.2h-5.2zM1261.2,191.4h5.2v5.2h-5.2zM1269.8,180.6h5.2v5.2h-5.2zM1281.4,172.8h5.2v5.2h-5.2zM1289.6,159.6h5.2v5.2h-5.2zM1297.8,156.2h5.2v5.2h-5.2zM1306.0,147.5h5.2v5.2h-5.2zM1314.2,141.6h5.2v5.2h-5.2zM1322.4,132.2h5.2v5.2h-5.2zM1330.6,137.2h5.2v5.2h-5.2zM1338.8,128.1h5.2v5.2h-5.2zM1347.0,120.7h5.2v5.2h-5.2zM1355.2,119.0h5.2v5.2h-5.2zM1363.4,122.6h5.2v5.2h-5.2zM1371.6,110.9h5.2v5.2h-5.2zM1379.8,107.6h5.2v5.2h-5.2zM1388.0,112.3h5.2v5.2h-5.2zM1396.2,107.3h5.2v5.2h-5.2zM1404.4,108.2h5.2v5.2h-5.2zM1412.6,104.0h5.2v5.2h-5.2zM1420.8,104.7h5.2v5.2h-5.2zM1429.0,106.2h5.2v5.2h-5.2zM1437.2,107.0h5.2v5.2h-5.2zM1445.4,99.4h5.2v5.2h-5.2zM1451.6,102.2h5.2v5.2h-5.2z" fill="#1361a9"/>
<polyline clip-path="url(#cbt)" points="1040.4,412.5 1084.5,411.9 1116.7,410.8 1131.7,409.7 1140.3,407.6 1143.5,401.2 1159.7,392.6 1179.0,373.2 1185.4,360.3 1191.9,349.6 1196.2,334.5 1206.9,310.9 1217.6,280.0 1228.3,246.6 1238.0,231.6 1243.4,214.4 1248.7,211.1 1260.6,191.8 1265.9,188.6 1274.5,181.1 1286.2,168.0 1289.2,159.0 1300.0,153.5 1312.9,141.9 1325.8,126.4 1333.5,139.3 1339.3,122.5 1343.8,132.9 1350.3,114.2 1365.8,121.3 1377.4,104.5 1383.8,107.7 1387.7,107.1 1390.3,112.2 1395.4,105.8 1400.6,105.8 1405.7,110.3 1417.3,105.1 1423.8,105.8 1429.6,103.2 1434.1,106.4 1441.8,107.7 1449.6,99.3 1454.1,104.5" fill="none" stroke="#0a4a90" stroke-width="5.8" stroke-linejoin="round"/>
<path clip-path="url(#cbt)" d="M1037.8,409.9h5.2v5.2h-5.2zM1081.9,409.3h5.2v5.2h-5.2zM1114.1,408.2h5.2v5.2h-5.2zM1129.1,407.1h5.2v5.2h-5.2zM1137.7,405.0h5.2v5.2h-5.2zM1140.9,398.6h5.2v5.2h-5.2zM1157.1,390.0h5.2v5.2h-5.2zM1176.4,370.6h5.2v5.2h-5.2zM1182.8,357.7h5.2v5.2h-5.2zM1189.3,347.0h5.2v5.2h-5.2zM1193.6,331.9h5.2v5.2h-5.2zM1204.3,308.3h5.2v5.2h-5.2zM1215.0,277.4h5.2v5.2h-5.2zM1225.7,244.0h5.2v5.2h-5.2zM1235.4,229.0h5.2v5.2h-5.2zM1240.8,211.8h5.2v5.2h-5.2zM1246.1,208.5h5.2v5.2h-5.2zM1258.0,189.2h5.2v5.2h-5.2zM1263.3,186.0h5.2v5.2h-5.2zM1271.9,178.5h5.2v5.2h-5.2zM1283.6,165.4h5.2v5.2h-5.2zM1286.6,156.4h5.2v5.2h-5.2zM1297.4,150.9h5.2v5.2h-5.2zM1310.3,139.3h5.2v5.2h-5.2zM1323.2,123.8h5.2v5.2h-5.2zM1330.9,136.7h5.2v5.2h-5.2zM1336.7,119.9h5.2v5.2h-5.2zM1341.2,130.3h5.2v5.2h-5.2zM1347.7,111.6h5.2v5.2h-5.2zM1363.2,118.7h5.2v5.2h-5.2zM1374.8,101.9h5.2v5.2h-5.2zM1381.2,105.1h5.2v5.2h-5.2zM1385.1,104.5h5.2v5.2h-5.2zM1387.7,109.6h5.2v5.2h-5.2zM1392.8,103.2h5.2v5.2h-5.2zM1398.0,103.2h5.2v5.2h-5.2zM1403.1,107.7h5.2v5.2h-5.2zM1414.7,102.5h5.2v5.2h-5.2zM1421.2,103.2h5.2v5.2h-5.2zM1427.0,100.6h5.2v5.2h-5.2zM1431.5,103.8h5.2v5.2h-5.2zM1439.2,105.1h5.2v5.2h-5.2zM1447.0,96.7h5.2v5.2h-5.2zM1451.5,101.9h5.2v5.2h-5.2z" fill="#0a4a90"/>
<rect x="1039.40" y="80.10" width="416.20" height="350.00" fill="none" stroke="#000" stroke-width="2.9"/>
<line x1="1025.50" y1="115.4" x2="1039.40" y2="115.4" stroke="#000" stroke-width="2.9"/>
<line x1="1025.50" y1="216.07" x2="1039.40" y2="216.07" stroke="#000" stroke-width="2.9"/>
<line x1="1025.50" y1="316.73" x2="1039.40" y2="316.73" stroke="#000" stroke-width="2.9"/>
<line x1="1025.50" y1="417.4" x2="1039.40" y2="417.4" stroke="#000" stroke-width="2.9"/>
<rect x="1235.4" y="483.6" width="20.4" height="349.9" fill="#e6e6e6"/>
<line x1="1246.0" y1="483.6" x2="1246.0" y2="833.5" stroke="#000" stroke-width="5.3"/>
<polyline clip-path="url(#cbb)" points="1041.5,775.8 1063.0,777.1 1079.1,774.3 1084.5,762.5 1093.1,757.1 1105.9,751.7 1123.1,742.1 1143.5,730.7 1147.8,718.4 1157.5,712.0 1168.3,700.2 1183.3,688.3 1186.4,676.7 1194.0,667.0 1205.8,658.4 1221.9,638.0 1231.6,630.5 1240.2,623.0 1249.8,615.4 1260.6,606.9 1271.3,600.4 1280.0,596.1 1287.7,587.6 1295.3,578.6 1300.5,572.6 1300.0,570.3 1306.4,563.8 1316.8,558.6 1325.8,552.2 1338.7,544.5 1351.6,537.4 1358.0,531.6 1367.0,527.1 1377.4,523.8 1392.8,522.5 1399.3,518.7 1409.6,516.1 1416.0,513.5 1432.8,512.2 1441.8,510.3 1454.1,507.1" fill="none" stroke="#f14a33" stroke-width="5.8" stroke-linejoin="round"/>
<path clip-path="url(#cbb)" d="M1038.9,773.2h5.2v5.2h-5.2zM1060.4,774.5h5.2v5.2h-5.2zM1076.5,771.7h5.2v5.2h-5.2zM1081.9,759.9h5.2v5.2h-5.2zM1090.5,754.5h5.2v5.2h-5.2zM1103.3,749.1h5.2v5.2h-5.2zM1120.5,739.5h5.2v5.2h-5.2zM1140.9,728.1h5.2v5.2h-5.2zM1145.2,715.8h5.2v5.2h-5.2zM1154.9,709.4h5.2v5.2h-5.2zM1165.7,697.6h5.2v5.2h-5.2zM1180.7,685.7h5.2v5.2h-5.2zM1183.8,674.1h5.2v5.2h-5.2zM1191.4,664.4h5.2v5.2h-5.2zM1203.2,655.8h5.2v5.2h-5.2zM1219.3,635.4h5.2v5.2h-5.2zM1229.0,627.9h5.2v5.2h-5.2zM1237.6,620.4h5.2v5.2h-5.2zM1247.2,612.8h5.2v5.2h-5.2zM1258.0,604.3h5.2v5.2h-5.2zM1268.7,597.8h5.2v5.2h-5.2zM1277.4,593.5h5.2v5.2h-5.2zM1285.1,585.0h5.2v5.2h-5.2zM1292.7,576.0h5.2v5.2h-5.2zM1297.9,570.0h5.2v5.2h-5.2zM1297.4,567.7h5.2v5.2h-5.2zM1303.8,561.2h5.2v5.2h-5.2zM1314.2,556.0h5.2v5.2h-5.2zM1323.2,549.6h5.2v5.2h-5.2zM1336.1,541.9h5.2v5.2h-5.2zM1349.0,534.8h5.2v5.2h-5.2zM1355.4,529.0h5.2v5.2h-5.2zM1364.4,524.5h5.2v5.2h-5.2zM1374.8,521.2h5.2v5.2h-5.2zM1390.2,519.9h5.2v5.2h-5.2zM1396.7,516.1h5.2v5.2h-5.2zM1407.0,513.5h5.2v5.2h-5.2zM1413.4,510.9h5.2v5.2h-5.2zM1430.2,509.6h5.2v5.2h-5.2zM1439.2,507.7h5.2v5.2h-5.2zM1451.5,504.5h5.2v5.2h-5.2z" fill="#f14a33"/>
<polyline clip-path="url(#cbb)" points="1040.4,795.8 1063.0,794.3 1080.2,793.0 1084.5,786.1 1095.2,782.9 1110.2,776.4 1123.1,771.1 1143.5,762.5 1146.8,752.8 1157.5,744.2 1170.4,730.2 1183.3,715.2 1188.7,703.4 1198.3,692.6 1209.1,676.5 1215.4,680.0 1226.2,661.6 1238.0,640.2 1246.6,628.3 1255.2,619.7 1265.9,606.9 1280.0,591.8 1284.0,585.0 1292.2,576.6 1300.4,566.9 1308.6,555.0 1316.8,552.0 1325.0,545.8 1333.2,542.2 1341.4,537.6 1349.6,533.4 1357.8,527.7 1366.0,522.8 1374.2,520.8 1382.4,519.6 1390.6,518.8 1398.8,515.6 1407.0,513.5 1415.2,510.1 1423.4,510.2 1431.6,508.8 1439.8,506.9 1448.0,507.7 1454.2,506.0" fill="none" stroke="#e02c26" stroke-width="5.8" stroke-linejoin="round"/>
<path clip-path="url(#cbb)" d="M1037.8,793.2h5.2v5.2h-5.2zM1060.4,791.7h5.2v5.2h-5.2zM1077.6,790.4h5.2v5.2h-5.2zM1081.9,783.5h5.2v5.2h-5.2zM1092.6,780.3h5.2v5.2h-5.2zM1107.6,773.8h5.2v5.2h-5.2zM1120.5,768.5h5.2v5.2h-5.2zM1140.9,759.9h5.2v5.2h-5.2zM1144.2,750.2h5.2v5.2h-5.2zM1154.9,741.6h5.2v5.2h-5.2zM1167.8,727.6h5.2v5.2h-5.2zM1180.7,712.6h5.2v5.2h-5.2zM1186.1,700.8h5.2v5.2h-5.2zM1195.7,690.0h5.2v5.2h-5.2zM1206.5,673.9h5.2v5.2h-5.2zM1212.8,677.4h5.2v5.2h-5.2zM1223.6,659.0h5.2v5.2h-5.2zM1235.4,637.6h5.2v5.2h-5.2zM1244.0,625.7h5.2v5.2h-5.2zM1252.6,617.1h5.2v5.2h-5.2zM1263.3,604.3h5.2v5.2h-5.2zM1277.4,589.2h5.2v5.2h-5.2zM1281.4,582.4h5.2v5.2h-5.2zM1289.6,574.0h5.2v5.2h-5.2zM1297.8,564.3h5.2v5.2h-5.2zM1306.0,552.4h5.2v5.2h-5.2zM1314.2,549.4h5.2v5.2h-5.2zM1322.4,543.2h5.2v5.2h-5.2zM1330.6,539.6h5.2v5.2h-5.2zM1338.8,535.0h5.2v5.2h-5.2zM1347.0,530.8h5.2v5.2h-5.2zM1355.2,525.1h5.2v5.2h-5.2zM1363.4,520.2h5.2v5.2h-5.2zM1371.6,518.2h5.2v5.2h-5.2zM1379.8,517.0h5.2v5.2h-5.2zM1388.0,516.2h5.2v5.2h-5.2zM1396.2,513.0h5.2v5.2h-5.2zM1404.4,510.9h5.2v5.2h-5.2zM1412.6,507.5h5.2v5.2h-5.2zM1420.8,507.6h5.2v5.2h-5.2zM1429.0,506.2h5.2v5.2h-5.2zM1437.2,504.3h5.2v5.2h-5.2zM1445.4,505.1h5.2v5.2h-5.2zM1451.6,503.4h5.2v5.2h-5.2z" fill="#e02c26"/>
<polyline clip-path="url(#cbb)" points="1040.4,805.4 1080.2,804.4 1084.5,799.0 1097.4,796.9 1110.2,793.6 1123.1,789.3 1142.5,780.7 1146.8,775.4 1157.5,765.7 1170.4,749.6 1183.3,734.5 1189.7,721.7 1200.5,700.2 1213.4,676.5 1219.7,680.0 1228.3,665.9 1241.2,644.4 1248.7,630.5 1257.3,615.4 1265.9,602.6 1280.0,586.4 1284.0,578.0 1292.2,569.7 1300.4,561.3 1308.6,550.6 1316.8,546.7 1325.0,540.1 1333.2,537.5 1341.4,535.8 1349.6,530.4 1357.8,523.4 1366.0,520.3 1374.2,518.4 1382.4,519.5 1390.6,517.8 1398.8,512.0 1407.0,510.2 1415.2,505.9 1423.4,506.0 1431.6,507.8 1439.8,505.3 1448.0,504.1 1454.2,503.3" fill="none" stroke="#c9181d" stroke-width="5.8" stroke-linejoin="round"/>
<path clip-path="url(#cbb)" d="M1037.8,802.8h5.2v5.2h-5.2zM1077.6,801.8h5.2v5.2h-5.2zM1081.9,796.4h5.2v5.2h-5.2zM1094.8,794.3h5.2v5.2h-5.2zM1107.6,791.0h5.2v5.2h-5.2zM1120.5,786.7h5.2v5.2h-5.2zM1139.9,778.1h5.2v5.2h-5.2zM1144.2,772.8h5.2v5.2h-5.2zM1154.9,763.1h5.2v5.2h-5.2zM1167.8,747.0h5.2v5.2h-5.2zM1180.7,731.9h5.2v5.2h-5.2zM1187.1,719.1h5.2v5.2h-5.2zM1197.9,697.6h5.2v5.2h-5.2zM1210.8,673.9h5.2v5.2h-5.2zM1217.1,677.4h5.2v5.2h-5.2zM1225.7,663.3h5.2v5.2h-5.2zM1238.6,641.8h5.2v5.2h-5.2zM1246.1,627.9h5.2v5.2h-5.2zM1254.7,612.8h5.2v5.2h-5.2zM1263.3,600.0h5.2v5.2h-5.2zM1277.4,583.8h5.2v5.2h-5.2zM1281.4,575.4h5.2v5.2h-5.2zM1289.6,567.1h5.2v5.2h-5.2zM1297.8,558.7h5.2v5.2h-5.2zM1306.0,548.0h5.2v5.2h-5.2zM1314.2,544.1h5.2v5.2h-5.2zM1322.4,537.5h5.2v5.2h-5.2zM1330.6,534.9h5.2v5.2h-5.2zM1338.8,533.2h5.2v5.2h-5.2zM1347.0,527.8h5.2v5.2h-5.2zM1355.2,520.8h5.2v5.2h-5.2zM1363.4,517.7h5.2v5.2h-5.2zM1371.6,515.8h5.2v5.2h-5.2zM1379.8,516.9h5.2v5.2h-5.2zM1388.0,515.2h5.2v5.2h-5.2zM1396.2,509.4h5.2v5.2h-5.2zM1404.4,507.6h5.2v5.2h-5.2zM1412.6,503.3h5.2v5.2h-5.2zM1420.8,503.4h5.2v5.2h-5.2zM1429.0,505.2h5.2v5.2h-5.2zM1437.2,502.7h5.2v5.2h-5.2zM1445.4,501.5h5.2v5.2h-5.2zM1451.6,500.7h5.2v5.2h-5.2z" fill="#c9181d"/>
<polyline clip-path="url(#cbb)" points="1040.4,810.8 1080.2,809.7 1084.5,807.6 1097.4,808.0 1110.2,805.4 1123.1,802.2 1142.5,796.9 1146.8,791.5 1157.5,784.0 1170.4,771.1 1185.4,751.7 1189.7,734.5 1202.6,704.5 1214.4,680.0 1228.3,649.8 1240.2,631.6 1247.7,618.7 1255.2,607.9 1263.8,596.1 1272.4,586.4 1280.0,580.0 1284.0,570.4 1292.2,563.2 1300.4,554.6 1308.6,547.2 1316.8,540.0 1325.0,535.0 1333.2,532.3 1341.4,531.5 1349.6,528.8 1357.8,521.9 1366.0,516.6 1374.2,513.4 1382.4,518.4 1390.6,516.6 1398.8,509.5 1407.0,508.1 1415.2,504.2 1423.4,505.3 1431.6,504.7 1439.8,505.8 1448.0,502.8 1454.2,505.1" fill="none" stroke="#b11219" stroke-width="5.8" stroke-linejoin="round"/>
<path clip-path="url(#cbb)" d="M1037.8,808.2h5.2v5.2h-5.2zM1077.6,807.1h5.2v5.2h-5.2zM1081.9,805.0h5.2v5.2h-5.2zM1094.8,805.4h5.2v5.2h-5.2zM1107.6,802.8h5.2v5.2h-5.2zM1120.5,799.6h5.2v5.2h-5.2zM1139.9,794.3h5.2v5.2h-5.2zM1144.2,788.9h5.2v5.2h-5.2zM1154.9,781.4h5.2v5.2h-5.2zM1167.8,768.5h5.2v5.2h-5.2zM1182.8,749.1h5.2v5.2h-5.2zM1187.1,731.9h5.2v5.2h-5.2zM1200.0,701.9h5.2v5.2h-5.2zM1211.8,677.4h5.2v5.2h-5.2zM1225.7,647.2h5.2v5.2h-5.2zM1237.6,629.0h5.2v5.2h-5.2zM1245.1,616.1h5.2v5.2h-5.2zM1252.6,605.3h5.2v5.2h-5.2zM1261.2,593.5h5.2v5.2h-5.2zM1269.8,583.8h5.2v5.2h-5.2zM1277.4,577.4h5.2v5.2h-5.2zM1281.4,567.8h5.2v5.2h-5.2zM1289.6,560.6h5.2v5.2h-5.2zM1297.8,552.0h5.2v5.2h-5.2zM1306.0,544.6h5.2v5.2h-5.2zM1314.2,537.4h5.2v5.2h-5.2zM1322.4,532.4h5.2v5.2h-5.2zM1330.6,529.7h5.2v5.2h-5.2zM1338.8,528.9h5.2v5.2h-5.2zM1347.0,526.2h5.2v5.2h-5.2zM1355.2,519.3h5.2v5.2h-5.2zM1363.4,514.0h5.2v5.2h-5.2zM1371.6,510.8h5.2v5.2h-5.2zM1379.8,515.8h5.2v5.2h-5.2zM1388.0,514.0h5.2v5.2h-5.2zM1396.2,506.9h5.2v5.2h-5.2zM1404.4,505.5h5.2v5.2h-5.2zM1412.6,501.6h5.2v5.2h-5.2zM1420.8,502.7h5.2v5.2h-5.2zM1429.0,502.1h5.2v5.2h-5.2zM1437.2,503.2h5.2v5.2h-5.2zM1445.4,500.2h5.2v5.2h-5.2zM1451.6,502.5h5.2v5.2h-5.2z" fill="#b11219"/>
<polyline clip-path="url(#cbb)" points="1040.4,814.5 1080.2,813.6 1084.5,811.9 1101.7,812.3 1123.1,809.7 1142.5,805.0 1153.2,797.9 1161.8,788.3 1172.6,777.5 1185.4,758.2 1191.9,734.5 1204.8,704.5 1212.2,680.0 1227.3,646.6 1238.0,630.5 1245.5,615.4 1250.4,599.3 1254.1,598.3 1257.3,591.8 1264.9,583.2 1287.7,560.5 1295.3,557.5 1300.0,549.6 1306.4,543.2 1316.8,535.4 1329.7,527.7 1336.1,529.6 1347.7,528.3 1351.6,521.3 1355.4,518.7 1363.2,519.3 1369.6,508.4 1379.9,516.1 1390.3,514.8 1392.8,509.0 1399.3,505.1 1403.1,512.2 1410.9,501.3 1422.5,501.3 1435.4,502.6 1454.1,502.6" fill="none" stroke="#960c16" stroke-width="5.8" stroke-linejoin="round"/>
<path clip-path="url(#cbb)" d="M1037.8,811.9h5.2v5.2h-5.2zM1077.6,811.0h5.2v5.2h-5.2zM1081.9,809.3h5.2v5.2h-5.2zM1099.1,809.7h5.2v5.2h-5.2zM1120.5,807.1h5.2v5.2h-5.2zM1139.9,802.4h5.2v5.2h-5.2zM1150.6,795.3h5.2v5.2h-5.2zM1159.2,785.7h5.2v5.2h-5.2zM1170.0,774.9h5.2v5.2h-5.2zM1182.8,755.6h5.2v5.2h-5.2zM1189.3,731.9h5.2v5.2h-5.2zM1202.2,701.9h5.2v5.2h-5.2zM1209.6,677.4h5.2v5.2h-5.2zM1224.7,644.0h5.2v5.2h-5.2zM1235.4,627.9h5.2v5.2h-5.2zM1242.9,612.8h5.2v5.2h-5.2zM1247.8,596.7h5.2v5.2h-5.2zM1251.5,595.7h5.2v5.2h-5.2zM1254.7,589.2h5.2v5.2h-5.2zM1262.3,580.6h5.2v5.2h-5.2zM1285.1,557.9h5.2v5.2h-5.2zM1292.7,554.9h5.2v5.2h-5.2zM1297.4,547.0h5.2v5.2h-5.2zM1303.8,540.6h5.2v5.2h-5.2zM1314.2,532.8h5.2v5.2h-5.2zM1327.1,525.1h5.2v5.2h-5.2zM1333.5,527.0h5.2v5.2h-5.2zM1345.1,525.7h5.2v5.2h-5.2zM1349.0,518.7h5.2v5.2h-5.2zM1352.8,516.1h5.2v5.2h-5.2zM1360.6,516.7h5.2v5.2h-5.2zM1367.0,505.8h5.2v5.2h-5.2zM1377.3,513.5h5.2v5.2h-5.2zM1387.7,512.2h5.2v5.2h-5.2zM1390.2,506.4h5.2v5.2h-5.2zM1396.7,502.5h5.2v5.2h-5.2zM1400.5,509.6h5.2v5.2h-5.2zM1408.3,498.7h5.2v5.2h-5.2zM1419.9,498.7h5.2v5.2h-5.2zM1432.8,500.0h5.2v5.2h-5.2zM1451.5,500.0h5.2v5.2h-5.2z" fill="#960c16"/>
<rect x="1039.40" y="483.60" width="416.20" height="349.90" fill="none" stroke="#000" stroke-width="2.9"/>
<line x1="1025.50" y1="514.55" x2="1039.40" y2="514.55" stroke="#000" stroke-width="2.9"/>
<line x1="1025.50" y1="617.3" x2="1039.40" y2="617.3" stroke="#000" stroke-width="2.9"/>
<line x1="1025.50" y1="720.05" x2="1039.40" y2="720.05" stroke="#000" stroke-width="2.9"/>
<line x1="1025.50" y1="822.8" x2="1039.40" y2="822.8" stroke="#000" stroke-width="2.9"/>
<line x1="1039.4" y1="833.50" x2="1039.4" y2="847.40" stroke="#000" stroke-width="2.9"/>
<line x1="1143.45" y1="833.50" x2="1143.45" y2="847.40" stroke="#000" stroke-width="2.9"/>
<line x1="1247.5" y1="833.50" x2="1247.5" y2="847.40" stroke="#000" stroke-width="2.9"/>
<line x1="1351.55" y1="833.50" x2="1351.55" y2="847.40" stroke="#000" stroke-width="2.9"/>
<line x1="1455.6" y1="833.50" x2="1455.6" y2="847.40" stroke="#000" stroke-width="2.9"/>
<g shape-rendering="crispEdges">
<rect x="1570" y="76" width="29" height="58" fill="#ad2e00"/>
<rect x="1599" y="76" width="29" height="58" fill="#7d0000"/>
<rect x="1628" y="76" width="29" height="58" fill="#750000"/>
<rect x="1657" y="76" width="29" height="58" fill="#6e0000"/>
<rect x="1686" y="76" width="29" height="58" fill="#690000"/>
<rect x="1715" y="76" width="29" height="58" fill="#700000"/>
<rect x="1744" y="76" width="29" height="58" fill="#6e0000"/>
<rect x="1773" y="76" width="29" height="58" fill="#700000"/>
<rect x="1802" y="76" width="29" height="58" fill="#700000"/>
<rect x="1831" y="76" width="29" height="58" fill="#730000"/>
<rect x="1860" y="76" width="29" height="58" fill="#750000"/>
<rect x="1889" y="76" width="29" height="58" fill="#7a0000"/>
<rect x="1918" y="76" width="29" height="58" fill="#820300"/>
<rect x="1570" y="134" width="29" height="58" fill="#ff991a"/>
<rect x="1599" y="134" width="29" height="58" fill="#ad2e00"/>
<rect x="1628" y="134" width="29" height="58" fill="#870800"/>
<rect x="1657" y="134" width="29" height="58" fill="#7a0000"/>
<rect x="1686" y="134" width="29" height="58" fill="#750000"/>
<rect x="1715" y="134" width="29" height="58" fill="#750000"/>
<rect x="1744" y="134" width="29" height="58" fill="#730000"/>
<rect x="1773" y="134" width="29" height="58" fill="#700000"/>
<rect x="1802" y="134" width="29" height="58" fill="#750000"/>
<rect x="1831" y="134" width="29" height="58" fill="#7d0000"/>
<rect x="1860" y="134" width="29" height="58" fill="#8a0a00"/>
<rect x="1889" y="134" width="29" height="58" fill="#941400"/>
<rect x="1918" y="134" width="29" height="58" fill="#961700"/>
<rect x="1570" y="192" width="29" height="57" fill="#ffff9e"/>
<rect x="1599" y="192" width="29" height="57" fill="#ffba3b"/>
<rect x="1628" y="192" width="29" height="57" fill="#c74700"/>
<rect x="1657" y="192" width="29" height="57" fill="#941400"/>
<rect x="1686" y="192" width="29" height="57" fill="#850500"/>
<rect x="1715" y="192" width="29" height="57" fill="#850500"/>
<rect x="1744" y="192" width="29" height="57" fill="#850500"/>
<rect x="1773" y="192" width="29" height="57" fill="#8c0d00"/>
<rect x="1802" y="192" width="29" height="57" fill="#8a0a00"/>
<rect x="1831" y="192" width="29" height="57" fill="#911200"/>
<rect x="1860" y="192" width="29" height="57" fill="#a62600"/>
<rect x="1889" y="192" width="29" height="57" fill="#ad2e00"/>
<rect x="1918" y="192" width="29" height="57" fill="#a12100"/>
<rect x="1570" y="249" width="29" height="58" fill="#fffff0"/>
<rect x="1599" y="249" width="29" height="58" fill="#ffffdb"/>
<rect x="1628" y="249" width="29" height="58" fill="#fffc7d"/>
<rect x="1657" y="249" width="29" height="58" fill="#ffab2b"/>
<rect x="1686" y="249" width="29" height="58" fill="#f57500"/>
<rect x="1715" y="249" width="29" height="58" fill="#db5c00"/>
<rect x="1744" y="249" width="29" height="58" fill="#d15200"/>
<rect x="1773" y="249" width="29" height="58" fill="#cf4f00"/>
<rect x="1802" y="249" width="29" height="58" fill="#de5e00"/>
<rect x="1831" y="249" width="29" height="58" fill="#e06100"/>
<rect x="1860" y="249" width="29" height="58" fill="#d65700"/>
<rect x="1889" y="249" width="29" height="58" fill="#bd3d00"/>
<rect x="1918" y="249" width="29" height="58" fill="#a62600"/>
<rect x="1570" y="307" width="29" height="58" fill="#ffffff"/>
<rect x="1599" y="307" width="29" height="58" fill="#fffffc"/>
<rect x="1628" y="307" width="29" height="58" fill="#fffff5"/>
<rect x="1657" y="307" width="29" height="58" fill="#ffffe5"/>
<rect x="1686" y="307" width="29" height="58" fill="#ffffc7"/>
<rect x="1715" y="307" width="29" height="58" fill="#ffffab"/>
<rect x="1744" y="307" width="29" height="58" fill="#ffff8c"/>
<rect x="1773" y="307" width="29" height="58" fill="#fff273"/>
<rect x="1802" y="307" width="29" height="58" fill="#ffcc4d"/>
<rect x="1831" y="307" width="29" height="58" fill="#ff991a"/>
<rect x="1860" y="307" width="29" height="58" fill="#eb6b00"/>
<rect x="1889" y="307" width="29" height="58" fill="#c24200"/>
<rect x="1918" y="307" width="29" height="58" fill="#a12100"/>
<rect x="1570" y="365" width="29" height="57" fill="#fffffa"/>
<rect x="1599" y="365" width="29" height="57" fill="#fffffa"/>
<rect x="1628" y="365" width="29" height="57" fill="#fffffa"/>
<rect x="1657" y="365" width="29" height="57" fill="#fffffa"/>
<rect x="1686" y="365" width="29" height="57" fill="#fffff5"/>
<rect x="1715" y="365" width="29" height="57" fill="#fffff0"/>
<rect x="1744" y="365" width="29" height="57" fill="#ffffd6"/>
<rect x="1773" y="365" width="29" height="57" fill="#ffffb8"/>
<rect x="1802" y="365" width="29" height="57" fill="#fff778"/>
<rect x="1831" y="365" width="29" height="57" fill="#ffb233"/>
<rect x="1860" y="365" width="29" height="57" fill="#f07000"/>
<rect x="1889" y="365" width="29" height="57" fill="#ad2e00"/>
<rect x="1918" y="365" width="29" height="57" fill="#630000"/>
</g>
<polyline points="1671.4,250.4 1700.4,282.0 1729.4,290.8 1758.0,293.4 1787.4,286.3 1816.4,273.0 1845.4,260.1" fill="none" stroke="#000" stroke-width="3.6" stroke-linejoin="round"/>
<path d="M1671.4,246.6V254.2" stroke="#000" stroke-width="3.6" fill="none"/>
<path d="M1663.4,246.6H1679.4M1663.4,254.2H1679.4" stroke="#000" stroke-width="3.8" fill="none"/>
<path d="M1700.4,277.2V286.8" stroke="#000" stroke-width="3.6" fill="none"/>
<path d="M1692.4,277.2H1708.4M1692.4,286.8H1708.4" stroke="#000" stroke-width="3.8" fill="none"/>
<path d="M1729.4,286.2V295.4" stroke="#000" stroke-width="3.6" fill="none"/>
<path d="M1721.4,286.2H1737.4M1721.4,295.4H1737.4" stroke="#000" stroke-width="3.8" fill="none"/>
<path d="M1758.0,287.4V299.4" stroke="#000" stroke-width="3.6" fill="none"/>
<path d="M1750.0,287.4H1766.0M1750.0,299.4H1766.0" stroke="#000" stroke-width="3.8" fill="none"/>
<path d="M1787.4,281.3V291.3" stroke="#000" stroke-width="3.6" fill="none"/>
<path d="M1779.4,281.3H1795.4M1779.4,291.3H1795.4" stroke="#000" stroke-width="3.8" fill="none"/>
<path d="M1816.4,267.4V278.6" stroke="#000" stroke-width="3.6" fill="none"/>
<path d="M1808.4,267.4H1824.4M1808.4,278.6H1824.4" stroke="#000" stroke-width="3.8" fill="none"/>
<path d="M1845.4,253.2V267.0" stroke="#000" stroke-width="3.6" fill="none"/>
<path d="M1837.4,253.2H1853.4M1837.4,267.0H1853.4" stroke="#000" stroke-width="3.8" fill="none"/>
<rect x="1570.5" y="76.5" width="377.0" height="346.0" fill="none" stroke="#000" stroke-width="3" shape-rendering="crispEdges"/>
<line x1="1555.30" y1="105.5" x2="1570.50" y2="105.5" stroke="#000" stroke-width="3"/>
<line x1="1555.30" y1="221.5" x2="1570.50" y2="221.5" stroke="#000" stroke-width="3"/>
<line x1="1555.30" y1="336.5" x2="1570.50" y2="336.5" stroke="#000" stroke-width="3"/>
<g shape-rendering="crispEdges">
<rect x="1570" y="468" width="29" height="58" fill="#730000"/>
<rect x="1599" y="468" width="29" height="58" fill="#730000"/>
<rect x="1628" y="468" width="29" height="58" fill="#700000"/>
<rect x="1657" y="468" width="29" height="58" fill="#6b0000"/>
<rect x="1686" y="468" width="29" height="58" fill="#6b0000"/>
<rect x="1715" y="468" width="29" height="58" fill="#690000"/>
<rect x="1744" y="468" width="29" height="58" fill="#6b0000"/>
<rect x="1773" y="468" width="29" height="58" fill="#6e0000"/>
<rect x="1802" y="468" width="29" height="58" fill="#6b0000"/>
<rect x="1831" y="468" width="29" height="58" fill="#6e0000"/>
<rect x="1860" y="468" width="29" height="58" fill="#820300"/>
<rect x="1889" y="468" width="29" height="58" fill="#ffa626"/>
<rect x="1918" y="468" width="29" height="58" fill="#ffffcc"/>
<rect x="1570" y="526" width="29" height="58" fill="#820300"/>
<rect x="1599" y="526" width="29" height="58" fill="#7d0000"/>
<rect x="1628" y="526" width="29" height="58" fill="#730000"/>
<rect x="1657" y="526" width="29" height="58" fill="#700000"/>
<rect x="1686" y="526" width="29" height="58" fill="#730000"/>
<rect x="1715" y="526" width="29" height="58" fill="#730000"/>
<rect x="1744" y="526" width="29" height="58" fill="#730000"/>
<rect x="1773" y="526" width="29" height="58" fill="#750000"/>
<rect x="1802" y="526" width="29" height="58" fill="#730000"/>
<rect x="1831" y="526" width="29" height="58" fill="#7a0000"/>
<rect x="1860" y="526" width="29" height="58" fill="#c74700"/>
<rect x="1889" y="526" width="29" height="58" fill="#ffff82"/>
<rect x="1918" y="526" width="29" height="58" fill="#ffffe0"/>
<rect x="1570" y="584" width="29" height="58" fill="#a62600"/>
<rect x="1599" y="584" width="29" height="58" fill="#9e1f00"/>
<rect x="1628" y="584" width="29" height="58" fill="#941400"/>
<rect x="1657" y="584" width="29" height="58" fill="#870800"/>
<rect x="1686" y="584" width="29" height="58" fill="#820300"/>
<rect x="1715" y="584" width="29" height="58" fill="#820300"/>
<rect x="1744" y="584" width="29" height="58" fill="#820300"/>
<rect x="1773" y="584" width="29" height="58" fill="#870800"/>
<rect x="1802" y="584" width="29" height="58" fill="#941400"/>
<rect x="1831" y="584" width="29" height="58" fill="#c24200"/>
<rect x="1860" y="584" width="29" height="58" fill="#ffc445"/>
<rect x="1889" y="584" width="29" height="58" fill="#ffffd1"/>
<rect x="1918" y="584" width="29" height="58" fill="#fffff0"/>
<rect x="1570" y="642" width="29" height="58" fill="#c74700"/>
<rect x="1599" y="642" width="29" height="58" fill="#cf4f00"/>
<rect x="1628" y="642" width="29" height="58" fill="#d15200"/>
<rect x="1657" y="642" width="29" height="58" fill="#d15200"/>
<rect x="1686" y="642" width="29" height="58" fill="#c94a00"/>
<rect x="1715" y="642" width="29" height="58" fill="#c74700"/>
<rect x="1744" y="642" width="29" height="58" fill="#cc4d00"/>
<rect x="1773" y="642" width="29" height="58" fill="#e06100"/>
<rect x="1802" y="642" width="29" height="58" fill="#ff8c0d"/>
<rect x="1831" y="642" width="29" height="58" fill="#ffe869"/>
<rect x="1860" y="642" width="29" height="58" fill="#ffffc2"/>
<rect x="1889" y="642" width="29" height="58" fill="#ffffeb"/>
<rect x="1918" y="642" width="29" height="58" fill="#fffffa"/>
<rect x="1570" y="700" width="29" height="58" fill="#e06100"/>
<rect x="1599" y="700" width="29" height="58" fill="#ed6e00"/>
<rect x="1628" y="700" width="29" height="58" fill="#ff8203"/>
<rect x="1657" y="700" width="29" height="58" fill="#ff9e1f"/>
<rect x="1686" y="700" width="29" height="58" fill="#ffbd3d"/>
<rect x="1715" y="700" width="29" height="58" fill="#ffe363"/>
<rect x="1744" y="700" width="29" height="58" fill="#ffff82"/>
<rect x="1773" y="700" width="29" height="58" fill="#ffffa3"/>
<rect x="1802" y="700" width="29" height="58" fill="#ffffc7"/>
<rect x="1831" y="700" width="29" height="58" fill="#ffffe5"/>
<rect x="1860" y="700" width="29" height="58" fill="#fffff5"/>
<rect x="1889" y="700" width="29" height="58" fill="#fffffc"/>
<rect x="1918" y="700" width="29" height="58" fill="#ffffff"/>
<rect x="1570" y="758" width="29" height="57" fill="#e06100"/>
<rect x="1599" y="758" width="29" height="57" fill="#f07000"/>
<rect x="1628" y="758" width="29" height="57" fill="#ff8c0d"/>
<rect x="1657" y="758" width="29" height="57" fill="#ffb233"/>
<rect x="1686" y="758" width="29" height="57" fill="#ffe363"/>
<rect x="1715" y="758" width="29" height="57" fill="#ffff96"/>
<rect x="1744" y="758" width="29" height="57" fill="#ffffb8"/>
<rect x="1773" y="758" width="29" height="57" fill="#ffffc7"/>
<rect x="1802" y="758" width="29" height="57" fill="#ffffd6"/>
<rect x="1831" y="758" width="29" height="57" fill="#ffffeb"/>
<rect x="1860" y="758" width="29" height="57" fill="#fffffa"/>
<rect x="1889" y="758" width="29" height="57" fill="#ffffff"/>
<rect x="1918" y="758" width="29" height="57" fill="#ffffff"/>
</g>
<polyline points="1671.4,649.0 1700.4,668.3 1729.4,678.4 1758.0,682.3 1787.4,684.0 1816.4,671.6 1845.4,639.3" fill="none" stroke="#000" stroke-width="3.6" stroke-linejoin="round"/>
<path d="M1671.4,644.4V653.6" stroke="#000" stroke-width="3.6" fill="none"/>
<path d="M1663.4,644.4H1679.4M1663.4,653.6H1679.4" stroke="#000" stroke-width="3.8" fill="none"/>
<path d="M1700.4,664.3V672.3" stroke="#000" stroke-width="3.6" fill="none"/>
<path d="M1692.4,664.3H1708.4M1692.4,672.3H1708.4" stroke="#000" stroke-width="3.8" fill="none"/>
<path d="M1729.4,673.8V683.0" stroke="#000" stroke-width="3.6" fill="none"/>
<path d="M1721.4,673.8H1737.4M1721.4,683.0H1737.4" stroke="#000" stroke-width="3.8" fill="none"/>
<path d="M1758.0,675.6V689.0" stroke="#000" stroke-width="3.6" fill="none"/>
<path d="M1750.0,675.6H1766.0M1750.0,689.0H1766.0" stroke="#000" stroke-width="3.8" fill="none"/>
<path d="M1787.4,677.9V690.1" stroke="#000" stroke-width="3.6" fill="none"/>
<path d="M1779.4,677.9H1795.4M1779.4,690.1H1795.4" stroke="#000" stroke-width="3.8" fill="none"/>
<path d="M1816.4,666.2V677.0" stroke="#000" stroke-width="3.6" fill="none"/>
<path d="M1808.4,666.2H1824.4M1808.4,677.0H1824.4" stroke="#000" stroke-width="3.8" fill="none"/>
<path d="M1845.4,634.6V644.0" stroke="#000" stroke-width="3.6" fill="none"/>
<path d="M1837.4,634.6H1853.4M1837.4,644.0H1853.4" stroke="#000" stroke-width="3.8" fill="none"/>
<rect x="1570.5" y="468.5" width="377.0" height="347.0" fill="none" stroke="#000" stroke-width="3" shape-rendering="crispEdges"/>
<line x1="1555.30" y1="497.5" x2="1570.50" y2="497.5" stroke="#000" stroke-width="3"/>
<line x1="1555.30" y1="613.5" x2="1570.50" y2="613.5" stroke="#000" stroke-width="3"/>
<line x1="1555.30" y1="729.5" x2="1570.50" y2="729.5" stroke="#000" stroke-width="3"/>
<line x1="1642.5" y1="815.50" x2="1642.5" y2="830.70" stroke="#000" stroke-width="3"/>
<line x1="1758.5" y1="815.50" x2="1758.5" y2="830.70" stroke="#000" stroke-width="3"/>
<line x1="1874.5" y1="815.50" x2="1874.5" y2="830.70" stroke="#000" stroke-width="3"/>
<defs><linearGradient id="cb" x1="0" y1="0" x2="0" y2="1"><stop offset="0.0000" stop-color="#000000"/><stop offset="0.0156" stop-color="#080000"/><stop offset="0.0312" stop-color="#100000"/><stop offset="0.0469" stop-color="#180000"/><stop offset="0.0625" stop-color="#200000"/><stop offset="0.0781" stop-color="#280000"/><stop offset="0.0938" stop-color="#300000"/><stop offset="0.1094" stop-color="#380000"/><stop offset="0.1250" stop-color="#400000"/><stop offset="0.1406" stop-color="#480000"/><stop offset="0.1562" stop-color="#500000"/><stop offset="0.1719" stop-color="#580000"/><stop offset="0.1875" stop-color="#600000"/><stop offset="0.2031" stop-color="#680000"/><stop offset="0.2188" stop-color="#700000"/><stop offset="0.2344" stop-color="#780000"/><stop offset="0.2500" stop-color="#800000"/><stop offset="0.2656" stop-color="#870800"/><stop offset="0.2812" stop-color="#8f1000"/><stop offset="0.2969" stop-color="#971800"/><stop offset="0.3125" stop-color="#9f2000"/><stop offset="0.3281" stop-color="#a72800"/><stop offset="0.3438" stop-color="#af3000"/><stop offset="0.3594" stop-color="#b73800"/><stop offset="0.3750" stop-color="#bf4000"/><stop offset="0.3906" stop-color="#c74800"/><stop offset="0.4062" stop-color="#cf5000"/><stop offset="0.4219" stop-color="#d75800"/><stop offset="0.4375" stop-color="#df6000"/><stop offset="0.4531" stop-color="#e76800"/><stop offset="0.4688" stop-color="#ef7000"/><stop offset="0.4844" stop-color="#f77800"/><stop offset="0.5000" stop-color="#ff8000"/><stop offset="0.5156" stop-color="#ff8708"/><stop offset="0.5312" stop-color="#ff8f10"/><stop offset="0.5469" stop-color="#ff9718"/><stop offset="0.5625" stop-color="#ff9f20"/><stop offset="0.5781" stop-color="#ffa728"/><stop offset="0.5938" stop-color="#ffaf30"/><stop offset="0.6094" stop-color="#ffb738"/><stop offset="0.6250" stop-color="#ffbf40"/><stop offset="0.6406" stop-color="#ffc748"/><stop offset="0.6562" stop-color="#ffcf50"/><stop offset="0.6719" stop-color="#ffd758"/><stop offset="0.6875" stop-color="#ffdf60"/><stop offset="0.7031" stop-color="#ffe768"/><stop offset="0.7188" stop-color="#ffef70"/><stop offset="0.7344" stop-color="#fff778"/><stop offset="0.7500" stop-color="#ffff80"/><stop offset="0.7656" stop-color="#ffff87"/><stop offset="0.7812" stop-color="#ffff8f"/><stop offset="0.7969" stop-color="#ffff97"/><stop offset="0.8125" stop-color="#ffff9f"/><stop offset="0.8281" stop-color="#ffffa7"/><stop offset="0.8438" stop-color="#ffffaf"/><stop offset="0.8594" stop-color="#ffffb7"/><stop offset="0.8750" stop-color="#ffffbf"/><stop offset="0.8906" stop-color="#ffffc7"/><stop offset="0.9062" stop-color="#ffffcf"/><stop offset="0.9219" stop-color="#ffffd7"/><stop offset="0.9375" stop-color="#ffffdf"/><stop offset="0.9531" stop-color="#ffffe7"/><stop offset="0.9688" stop-color="#ffffef"/><stop offset="0.9844" stop-color="#fffff7"/><stop offset="1.0000" stop-color="#ffffff"/></linearGradient></defs>
<rect x="2001.1" y="88.1" width="35.9" height="569.9" fill="url(#cb)" stroke="#000" stroke-width="2.5"/>
<line x1="2037" y1="658.0" x2="2048.8" y2="658.0" stroke="#000" stroke-width="2.6"/>
<line x1="2037" y1="544.0" x2="2048.8" y2="544.0" stroke="#000" stroke-width="2.6"/>
<line x1="2037" y1="430.1" x2="2048.8" y2="430.1" stroke="#000" stroke-width="2.6"/>
<line x1="2037" y1="316.1" x2="2048.8" y2="316.1" stroke="#000" stroke-width="2.6"/>
<line x1="2037" y1="202.2" x2="2048.8" y2="202.2" stroke="#000" stroke-width="2.6"/>
<line x1="2037" y1="88.2" x2="2048.8" y2="88.2" stroke="#000" stroke-width="2.6"/>
<text transform="translate(108.37,118.67) scale(0.4282,0.4328)" font-size="100" fill="#000" xml:space="preserve" >6</text>
<text transform="translate(109.52,233.02) scale(0.3914,0.4462)" font-size="100" fill="#000" xml:space="preserve" >4</text>
<text transform="translate(108.25,345.20) scale(0.4550,0.4394)" font-size="100" fill="#000" xml:space="preserve" >2</text>
<text transform="translate(29.76,33.95) scale(0.6689,0.5646)" font-size="100" fill="#000" xml:space="preserve" >a.</text>
<text transform="translate(127.47,59.96) scale(0.6960,0.6351)" font-size="100" fill="#000" xml:space="preserve" font-style="italic">t</text>
<text transform="translate(164.44,406.08) scale(0.4390,0.4224)" font-size="100" fill="#000" xml:space="preserve"  letter-spacing="10.1"><tspan font-style="italic">s</tspan> = −2</text>
<text transform="translate(108.37,518.37) scale(0.4282,0.4328)" font-size="100" fill="#000" xml:space="preserve" >6</text>
<text transform="translate(109.52,632.72) scale(0.3914,0.4462)" font-size="100" fill="#000" xml:space="preserve" >4</text>
<text transform="translate(108.25,744.20) scale(0.4550,0.4394)" font-size="100" fill="#000" xml:space="preserve" >2</text>
<text transform="translate(173.35,874.87) scale(0.5108,0.4296)" font-size="100" fill="#000" xml:space="preserve" >−8</text>
<text transform="translate(241.84,874.92) scale(0.4930,0.4369)" font-size="100" fill="#000" xml:space="preserve" >−4</text>
<text transform="translate(326.62,874.87) scale(0.4452,0.4296)" font-size="100" fill="#000" xml:space="preserve" >0</text>
<text transform="translate(395.77,874.92) scale(0.4172,0.4369)" font-size="100" fill="#000" xml:space="preserve" >4</text>
<text transform="translate(462.07,874.87) scale(0.4333,0.4296)" font-size="100" fill="#000" xml:space="preserve" >8</text>
<text transform="translate(181.22,803.87) scale(0.4504,0.4328)" font-size="100" fill="#000" xml:space="preserve"  letter-spacing="6.0"><tspan font-style="italic">s</tspan> = 2</text>
<text transform="translate(552.58,827.38) scale(0.8556,0.7437)" font-size="100" fill="#000" xml:space="preserve" font-style="italic">j</text>
<text transform="translate(484.41,447.02) scale(0.3952,0.3800)" font-size="100" fill="#000" xml:space="preserve"  letter-spacing="1.4">Treelike</text>
<text transform="translate(535.00,85.60) scale(0.3762,0.3538)" font-size="100" fill="#16d2e8" xml:space="preserve" font-style="italic" font-weight="bold">R</text>
<text transform="translate(734.16,71.09) scale(0.4585,0.3100)" font-size="100" fill="#f20000" xml:space="preserve" font-style="italic" font-weight="bold">j</text>
<text transform="translate(739.61,373.60) scale(0.3960,0.3478)" font-size="100" fill="#16d2e8" xml:space="preserve" font-style="italic" font-weight="bold">i</text>
<text transform="translate(771.16,210.44) scale(0.3604,0.3221)" font-size="100" fill="#000" xml:space="preserve" letter-spacing="0">sparse</text>
<text transform="translate(757.87,250.56) scale(0.3578,0.3423)" font-size="100" fill="#000" xml:space="preserve" letter-spacing="0">Clifford</text>
<text transform="translate(769.56,291.04) scale(0.3594,0.3642)" font-size="100" fill="#000" xml:space="preserve" letter-spacing="0">circuit</text>
<text transform="translate(890.38,278.05) scale(0.3600,0.3526)" font-size="100" fill="#000" xml:space="preserve" font-style="italic">t</text>
<text transform="translate(633.42,373.17) scale(0.3434,0.3733)" font-size="100" fill="#000" xml:space="preserve" >|0⟩|0⟩</text>
<text transform="translate(800.11,373.17) scale(0.3454,0.3733)" font-size="100" fill="#000" xml:space="preserve" >|0⟩|0⟩</text>
<text transform="translate(662,139.5) rotate(75.7) translate(-0.67,-0.24) scale(0.3329,0.3516)" font-size="100" fill="#ffb080" xml:space="preserve" font-weight="bold" letter-spacing="0">lightcone</text>
<text transform="translate(944.15,129.08) scale(0.3886,0.4103)" font-size="100" fill="#000" xml:space="preserve" >0.75</text>
<text transform="translate(944.15,229.75) scale(0.3886,0.4103)" font-size="100" fill="#000" xml:space="preserve" >0.50</text>
<text transform="translate(944.15,330.41) scale(0.3886,0.4103)" font-size="100" fill="#000" xml:space="preserve" >0.25</text>
<text transform="translate(944.15,431.08) scale(0.3886,0.4103)" font-size="100" fill="#000" xml:space="preserve" >0.00</text>
<text transform="translate(1067.08,122.81) scale(0.4118,0.3956)" font-size="100" fill="#000" xml:space="preserve"  letter-spacing="5.0"><tspan font-style="italic">s</tspan> = −0.5</text>
<text transform="translate(1043.66,171.37) scale(0.4321,0.4155)" font-size="100" fill="#000" xml:space="preserve"  letter-spacing="6.6">|<tspan font-style="italic" dx="6">j</tspan>| = <tspan font-style="italic">N</tspan>/2</text>
<text transform="translate(904.90,41.71) scale(0.5650,0.5957)" font-size="100" fill="#000" xml:space="preserve" >b.</text>
<text transform="translate(973.27,49.41) scale(0.5359,0.5160)" font-size="100" fill="#000" xml:space="preserve" ><tspan font-style="italic">I</tspan>(0; <tspan font-style="italic">j</tspan>|<tspan font-style="italic">m</tspan>)/ ln 2</text>
<text transform="translate(944.15,528.23) scale(0.3886,0.4103)" font-size="100" fill="#000" xml:space="preserve" >0.75</text>
<text transform="translate(944.15,630.98) scale(0.3886,0.4103)" font-size="100" fill="#000" xml:space="preserve" >0.50</text>
<text transform="translate(944.15,733.73) scale(0.3886,0.4103)" font-size="100" fill="#000" xml:space="preserve" >0.25</text>
<text transform="translate(944.15,836.48) scale(0.3886,0.4103)" font-size="100" fill="#000" xml:space="preserve" >0.00</text>
<text transform="translate(1025.44,889.00) scale(0.4286,0.4275)" font-size="100" fill="#000" xml:space="preserve" >1</text>
<text transform="translate(1131.67,889.00) scale(0.4500,0.4242)" font-size="100" fill="#000" xml:space="preserve" >2</text>
<text transform="translate(1234.30,888.58) scale(0.4390,0.4179)" font-size="100" fill="#000" xml:space="preserve" >3</text>
<text transform="translate(1340.83,889.22) scale(0.3871,0.4308)" font-size="100" fill="#000" xml:space="preserve" >4</text>
<text transform="translate(1442.50,888.58) scale(0.4500,0.4211)" font-size="100" fill="#000" xml:space="preserve" >5</text>
<text transform="translate(1085.56,526.99) scale(0.4246,0.4088)" font-size="100" fill="#000" xml:space="preserve"  letter-spacing="3.9"><tspan font-style="italic">s</tspan> = 0.5</text>
<text transform="translate(1064.02,570.65) scale(0.4378,0.4210)" font-size="100" fill="#000" xml:space="preserve"  letter-spacing="4.0">|<tspan font-style="italic" dx="6">j</tspan>| = 1</text>
<text transform="translate(1476.36,830.69) scale(0.6080,0.6070)" font-size="100" fill="#000" xml:space="preserve" font-style="italic">t</text>
<text transform="translate(1517.71,119.37) scale(0.4635,0.4328)" font-size="100" fill="#000" xml:space="preserve" >6</text>
<text transform="translate(1518.95,235.62) scale(0.4237,0.4462)" font-size="100" fill="#000" xml:space="preserve" >4</text>
<text transform="translate(1517.58,350.60) scale(0.4925,0.4394)" font-size="100" fill="#000" xml:space="preserve" >2</text>
<text transform="translate(1582.25,404.03) scale(0.4197,0.4033)" font-size="100" fill="#000" xml:space="preserve"  letter-spacing="8.0">|<tspan font-style="italic" dx="6">j</tspan>| = <tspan font-style="italic">N</tspan>/2</text>
<text transform="translate(1517.71,511.17) scale(0.4635,0.4328)" font-size="100" fill="#000" xml:space="preserve" >6</text>
<text transform="translate(1518.95,627.82) scale(0.4237,0.4462)" font-size="100" fill="#000" xml:space="preserve" >4</text>
<text transform="translate(1517.58,743.40) scale(0.4925,0.4394)" font-size="100" fill="#000" xml:space="preserve" >2</text>
<text transform="translate(1612.42,874.50) scale(0.5152,0.4366)" font-size="100" fill="#000" xml:space="preserve" >−1</text>
<text transform="translate(1745.70,874.67) scale(0.4738,0.4326)" font-size="100" fill="#000" xml:space="preserve" >0</text>
<text transform="translate(1859.01,874.50) scale(0.4771,0.4366)" font-size="100" fill="#000" xml:space="preserve" >1</text>
<text transform="translate(1830.28,798.83) scale(0.4425,0.4265)" font-size="100" fill="#000" xml:space="preserve"  letter-spacing="3.1">|<tspan font-style="italic" dx="6">j</tspan>| = 1</text>
<text transform="translate(1959.16,831.28) scale(0.8290,0.7229)" font-size="100" fill="#000" xml:space="preserve" font-style="italic">s</text>
<text transform="translate(1510.09,34.63) scale(0.6034,0.5814)" font-size="100" fill="#000" xml:space="preserve" >c.</text>
<text transform="translate(1558.30,62.67) scale(0.7120,0.6263)" font-size="100" fill="#000" xml:space="preserve" font-style="italic">t</text>
<text transform="translate(1863.77,49.21) scale(0.5369,0.5160)" font-size="100" fill="#000" xml:space="preserve" ><tspan font-style="italic">I</tspan>(0; <tspan font-style="italic">j</tspan>|<tspan font-style="italic">m</tspan>)/ ln 2</text>
<text transform="translate(2057.59,670.99) scale(0.4034,0.4059)" font-size="100" fill="#000" xml:space="preserve" >0.0</text>
<text transform="translate(2057.57,557.03) scale(0.4087,0.4059)" font-size="100" fill="#000" xml:space="preserve" >0.2</text>
<text transform="translate(2057.62,443.07) scale(0.3950,0.4059)" font-size="100" fill="#000" xml:space="preserve" >0.4</text>
<text transform="translate(2057.60,329.11) scale(0.4000,0.4059)" font-size="100" fill="#000" xml:space="preserve" >0.6</text>
<text transform="translate(2057.59,215.15) scale(0.4034,0.4059)" font-size="100" fill="#000" xml:space="preserve" >0.8</text>
<text transform="translate(2055.41,101.19) scale(0.4214,0.4059)" font-size="100" fill="#000" xml:space="preserve" >1.0</text>
</svg>
</body></html>
